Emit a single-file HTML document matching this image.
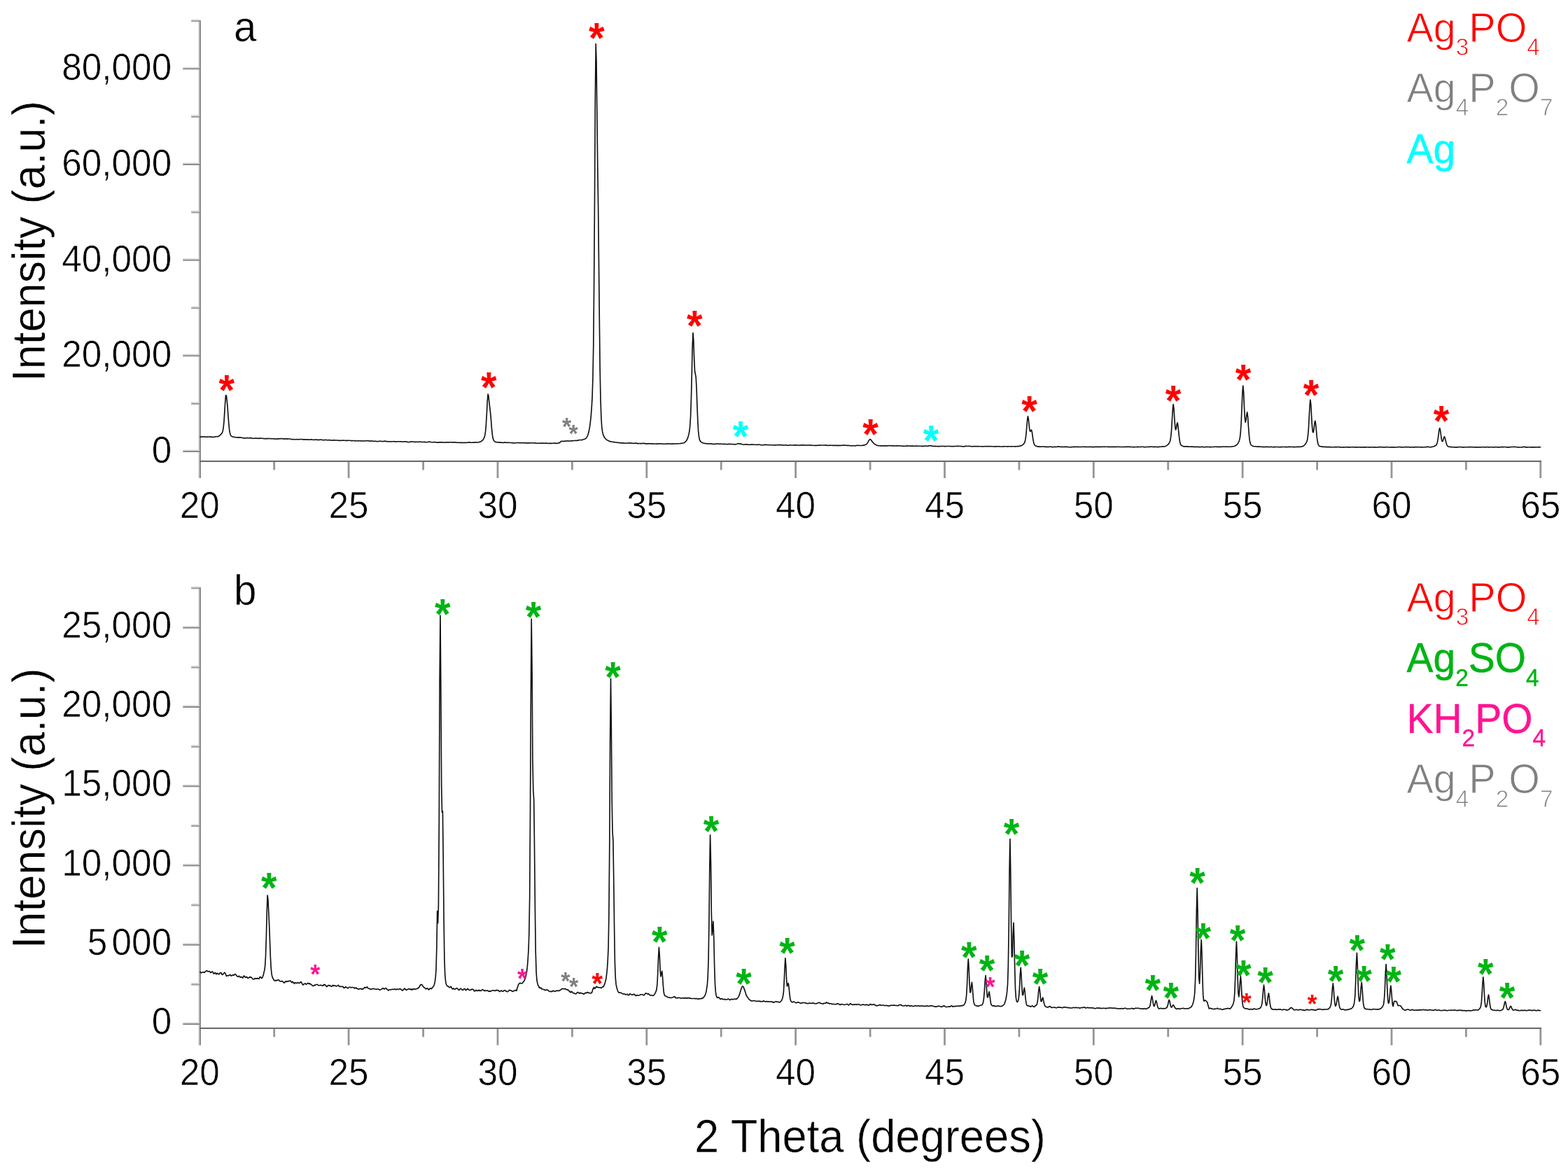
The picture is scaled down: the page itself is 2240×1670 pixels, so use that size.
<!DOCTYPE html>
<html lang="en"><head><meta charset="utf-8"><title>XRD patterns</title>
<style>
html,body{margin:0;padding:0;background:#fff}
body{width:2240px;height:1670px;overflow:hidden}
svg{display:block}
text{font-family:"Liberation Sans",sans-serif}
.tk{font-size:51.6px;stroke:#fff;stroke-width:0.6px}
.ttl{font-size:63.3px;stroke:#fff;stroke-width:0.5px}
.pl{font-size:58.3px;stroke:#fff;stroke-width:0.5px}
.lg{font-size:58.5px;stroke:#fff;stroke-width:0.9px}
.lgb{font-size:58px;stroke-width:0.4px;stroke-linejoin:round}
.sub{font-size:34px}
.st{font-weight:bold;text-anchor:middle}
.sr{text-anchor:middle}
.cv{fill:none;stroke:#111;stroke-width:1.65;stroke-linejoin:round;stroke-linecap:round}
</style></head><body>
<svg width="2240" height="1670" viewBox="0 0 2240 1670">
<rect width="2240" height="1670" fill="#fff"/>
<g>
<rect x="283.3" y="28.0" width="1.8" height="655.0" fill="#d2d2d2"/>
<rect x="285" y="29.0" width="2" height="654.0" fill="#8a8a8a"/>
<rect x="287" y="656.4" width="1914.8" height="1.6" fill="#ececec"/>
<rect x="285" y="658.0" width="1917.0" height="2" fill="#6c6c6c"/>
<rect x="261.3" y="642.4" width="23.7" height="1.6" fill="#dcdcdc"/>
<rect x="261.3" y="644.0" width="23.7" height="2" fill="#8a8a8a"/>
<rect x="261.3" y="505.7" width="23.7" height="1.6" fill="#dcdcdc"/>
<rect x="261.3" y="507.3" width="23.7" height="2" fill="#8a8a8a"/>
<rect x="261.3" y="369.1" width="23.7" height="1.6" fill="#dcdcdc"/>
<rect x="261.3" y="370.7" width="23.7" height="2" fill="#8a8a8a"/>
<rect x="261.3" y="232.4" width="23.7" height="1.6" fill="#dcdcdc"/>
<rect x="261.3" y="234.0" width="23.7" height="2" fill="#8a8a8a"/>
<rect x="261.3" y="95.7" width="23.7" height="1.6" fill="#dcdcdc"/>
<rect x="261.3" y="97.3" width="23.7" height="2" fill="#8a8a8a"/>
<rect x="273.2" y="574.3" width="11.8" height="1.6" fill="#d8d8d8"/>
<rect x="273.2" y="575.9" width="11.8" height="2" fill="#9c9c9c"/>
<rect x="273.2" y="437.6" width="11.8" height="1.6" fill="#d8d8d8"/>
<rect x="273.2" y="439.2" width="11.8" height="2" fill="#9c9c9c"/>
<rect x="273.2" y="300.9" width="11.8" height="1.6" fill="#d8d8d8"/>
<rect x="273.2" y="302.5" width="11.8" height="2" fill="#9c9c9c"/>
<rect x="273.2" y="164.3" width="11.8" height="1.6" fill="#d8d8d8"/>
<rect x="273.2" y="165.9" width="11.8" height="2" fill="#9c9c9c"/>
<rect x="273.2" y="27.6" width="11.8" height="1.6" fill="#d8d8d8"/>
<rect x="273.2" y="29.2" width="11.8" height="2" fill="#9c9c9c"/>
<rect x="496.7" y="660.0" width="2.8" height="23.0" fill="#969696"/>
<rect x="709.6" y="660.0" width="2.8" height="23.0" fill="#969696"/>
<rect x="922.4" y="660.0" width="2.8" height="23.0" fill="#969696"/>
<rect x="1135.2" y="660.0" width="2.8" height="23.0" fill="#969696"/>
<rect x="1348.1" y="660.0" width="2.8" height="23.0" fill="#969696"/>
<rect x="1560.9" y="660.0" width="2.8" height="23.0" fill="#969696"/>
<rect x="1773.7" y="660.0" width="2.8" height="23.0" fill="#969696"/>
<rect x="1986.6" y="660.0" width="2.8" height="23.0" fill="#969696"/>
<rect x="2199.4" y="660.0" width="2.8" height="23.0" fill="#969696"/>
<rect x="390.3" y="660.0" width="2.8" height="11.4" fill="#969696"/>
<rect x="603.2" y="660.0" width="2.8" height="11.4" fill="#969696"/>
<rect x="816.0" y="660.0" width="2.8" height="11.4" fill="#969696"/>
<rect x="1028.8" y="660.0" width="2.8" height="11.4" fill="#969696"/>
<rect x="1241.7" y="660.0" width="2.8" height="11.4" fill="#969696"/>
<rect x="1454.5" y="660.0" width="2.8" height="11.4" fill="#969696"/>
<rect x="1667.3" y="660.0" width="2.8" height="11.4" fill="#969696"/>
<rect x="1880.2" y="660.0" width="2.8" height="11.4" fill="#969696"/>
<rect x="2093.0" y="660.0" width="2.8" height="11.4" fill="#969696"/>
</g>
<g class="tk" text-anchor="middle">
<text transform="translate(285.3,739.7) scale(0.995,1.05)">20</text>
<text transform="translate(498.1,739.7) scale(0.995,1.05)">25</text>
<text transform="translate(711.0,739.7) scale(0.995,1.05)">30</text>
<text transform="translate(923.8,739.7) scale(0.995,1.05)">35</text>
<text transform="translate(1136.6,739.7) scale(0.995,1.05)">40</text>
<text transform="translate(1349.5,739.7) scale(0.995,1.05)">45</text>
<text transform="translate(1562.3,739.7) scale(0.995,1.05)">50</text>
<text transform="translate(1775.1,739.7) scale(0.995,1.05)">55</text>
<text transform="translate(1988.0,739.7) scale(0.995,1.05)">60</text>
<text transform="translate(2200.8,739.7) scale(0.995,1.05)">65</text>
</g>
<g class="tk" text-anchor="end">
<text transform="translate(245.2,660.8) scale(0.995,1.05)">0</text>
<text transform="translate(245.2,524.1) scale(0.995,1.05)">20,000</text>
<text transform="translate(245.2,387.5) scale(0.995,1.05)">40,000</text>
<text transform="translate(245.2,250.8) scale(0.995,1.05)">60,000</text>
<text transform="translate(245.2,114.1) scale(0.995,1.05)">80,000</text>
</g>
<g>
<rect x="283.3" y="838.0" width="1.8" height="655.2" fill="#d2d2d2"/>
<rect x="285" y="839.0" width="2" height="654.2" fill="#8a8a8a"/>
<rect x="287" y="1466.4" width="1914.8" height="1.6" fill="#ececec"/>
<rect x="285" y="1468.0" width="1917.0" height="2" fill="#6c6c6c"/>
<rect x="261.3" y="1460.4" width="23.7" height="1.6" fill="#dcdcdc"/>
<rect x="261.3" y="1462.0" width="23.7" height="2" fill="#8a8a8a"/>
<rect x="261.3" y="1347.2" width="23.7" height="1.6" fill="#dcdcdc"/>
<rect x="261.3" y="1348.8" width="23.7" height="2" fill="#8a8a8a"/>
<rect x="261.3" y="1233.9" width="23.7" height="1.6" fill="#dcdcdc"/>
<rect x="261.3" y="1235.5" width="23.7" height="2" fill="#8a8a8a"/>
<rect x="261.3" y="1120.7" width="23.7" height="1.6" fill="#dcdcdc"/>
<rect x="261.3" y="1122.3" width="23.7" height="2" fill="#8a8a8a"/>
<rect x="261.3" y="1007.4" width="23.7" height="1.6" fill="#dcdcdc"/>
<rect x="261.3" y="1009.0" width="23.7" height="2" fill="#8a8a8a"/>
<rect x="261.3" y="894.2" width="23.7" height="1.6" fill="#dcdcdc"/>
<rect x="261.3" y="895.8" width="23.7" height="2" fill="#8a8a8a"/>
<rect x="273.2" y="1404.0" width="11.8" height="1.6" fill="#d8d8d8"/>
<rect x="273.2" y="1405.6" width="11.8" height="2" fill="#9c9c9c"/>
<rect x="273.2" y="1290.7" width="11.8" height="1.6" fill="#d8d8d8"/>
<rect x="273.2" y="1292.3" width="11.8" height="2" fill="#9c9c9c"/>
<rect x="273.2" y="1177.5" width="11.8" height="1.6" fill="#d8d8d8"/>
<rect x="273.2" y="1179.1" width="11.8" height="2" fill="#9c9c9c"/>
<rect x="273.2" y="1064.3" width="11.8" height="1.6" fill="#d8d8d8"/>
<rect x="273.2" y="1065.9" width="11.8" height="2" fill="#9c9c9c"/>
<rect x="273.2" y="951.0" width="11.8" height="1.6" fill="#d8d8d8"/>
<rect x="273.2" y="952.6" width="11.8" height="2" fill="#9c9c9c"/>
<rect x="273.2" y="837.8" width="11.8" height="1.6" fill="#d8d8d8"/>
<rect x="273.2" y="839.4" width="11.8" height="2" fill="#9c9c9c"/>
<rect x="496.7" y="1470.0" width="2.8" height="23.2" fill="#969696"/>
<rect x="709.6" y="1470.0" width="2.8" height="23.2" fill="#969696"/>
<rect x="922.4" y="1470.0" width="2.8" height="23.2" fill="#969696"/>
<rect x="1135.2" y="1470.0" width="2.8" height="23.2" fill="#969696"/>
<rect x="1348.1" y="1470.0" width="2.8" height="23.2" fill="#969696"/>
<rect x="1560.9" y="1470.0" width="2.8" height="23.2" fill="#969696"/>
<rect x="1773.7" y="1470.0" width="2.8" height="23.2" fill="#969696"/>
<rect x="1986.6" y="1470.0" width="2.8" height="23.2" fill="#969696"/>
<rect x="2199.4" y="1470.0" width="2.8" height="23.2" fill="#969696"/>
<rect x="390.3" y="1470.0" width="2.8" height="11.4" fill="#969696"/>
<rect x="603.2" y="1470.0" width="2.8" height="11.4" fill="#969696"/>
<rect x="816.0" y="1470.0" width="2.8" height="11.4" fill="#969696"/>
<rect x="1028.8" y="1470.0" width="2.8" height="11.4" fill="#969696"/>
<rect x="1241.7" y="1470.0" width="2.8" height="11.4" fill="#969696"/>
<rect x="1454.5" y="1470.0" width="2.8" height="11.4" fill="#969696"/>
<rect x="1667.3" y="1470.0" width="2.8" height="11.4" fill="#969696"/>
<rect x="1880.2" y="1470.0" width="2.8" height="11.4" fill="#969696"/>
<rect x="2093.0" y="1470.0" width="2.8" height="11.4" fill="#969696"/>
</g>
<g class="tk" text-anchor="middle">
<text transform="translate(285.3,1549.9) scale(0.995,1.05)">20</text>
<text transform="translate(498.1,1549.9) scale(0.995,1.05)">25</text>
<text transform="translate(711.0,1549.9) scale(0.995,1.05)">30</text>
<text transform="translate(923.8,1549.9) scale(0.995,1.05)">35</text>
<text transform="translate(1136.6,1549.9) scale(0.995,1.05)">40</text>
<text transform="translate(1349.5,1549.9) scale(0.995,1.05)">45</text>
<text transform="translate(1562.3,1549.9) scale(0.995,1.05)">50</text>
<text transform="translate(1775.1,1549.9) scale(0.995,1.05)">55</text>
<text transform="translate(1988.0,1549.9) scale(0.995,1.05)">60</text>
<text transform="translate(2200.8,1549.9) scale(0.995,1.05)">65</text>
</g>
<g class="tk" text-anchor="end">
<text transform="translate(245.2,1477.0) scale(0.995,1.05)">0</text>
<text transform="translate(245.2,1363.8) scale(0.995,1.05)">5 <tspan dx="-4">000</tspan></text>
<text transform="translate(245.2,1250.5) scale(0.995,1.05)">10,000</text>
<text transform="translate(245.2,1137.3) scale(0.995,1.05)">15,000</text>
<text transform="translate(245.2,1024.0) scale(0.995,1.05)">20,000</text>
<text transform="translate(245.2,910.8) scale(0.995,1.05)">25,000</text>
</g>
<text transform="translate(63.6,344.5) rotate(-90) scale(1,1.04)" class="ttl" text-anchor="middle">Intensity (a.u.)</text>
<text transform="translate(63.6,1154.8) rotate(-90) scale(1,1.04)" class="ttl" text-anchor="middle">Intensity (a.u.)</text>
<text transform="translate(1243,1645.6) scale(1,1.04)" class="ttl" text-anchor="middle">2 Theta (degrees)</text>
<text transform="translate(334,59) scale(1,1.04)" class="pl">a</text>
<text transform="translate(334,863.6) scale(1,1.04)" class="pl">b</text>
<text transform="translate(2009.5,59.8) scale(0.982,1.025)" class="lg" style="fill:#ff0000"><tspan>Ag</tspan><tspan class="sub" dy="19">3</tspan><tspan dy="-19">PO</tspan><tspan class="sub" dy="19">4</tspan></text>
<text transform="translate(2009.5,146.0) scale(0.982,1.025)" class="lg" style="fill:#808080"><tspan>Ag</tspan><tspan class="sub" dy="19">4</tspan><tspan dy="-19">P</tspan><tspan class="sub" dy="19">2</tspan><tspan dy="-19">O</tspan><tspan class="sub" dy="19">7</tspan></text>
<text transform="translate(2009.5,232.8) scale(0.982,1.025)" class="lg lgb" style="fill:#00ffff;stroke:#00ffff"><tspan>Ag</tspan></text>
<text transform="translate(2009.5,873.5) scale(0.982,1.025)" class="lg" style="fill:#ff0000"><tspan>Ag</tspan><tspan class="sub" dy="19">3</tspan><tspan dy="-19">PO</tspan><tspan class="sub" dy="19">4</tspan></text>
<text transform="translate(2009.5,960.1) scale(0.982,1.025)" class="lg lgb" style="fill:#00b414;stroke:#00b414"><tspan>Ag</tspan><tspan class="sub" dy="19">2</tspan><tspan dy="-19">SO</tspan><tspan class="sub" dy="19">4</tspan></text>
<text transform="translate(2009.5,1046.6) scale(0.982,1.025)" class="lg lgb" style="fill:#ff1493;stroke:#ff1493"><tspan>KH</tspan><tspan class="sub" dy="19">2</tspan><tspan dy="-19">PO</tspan><tspan class="sub" dy="19">4</tspan></text>
<text transform="translate(2009.5,1133.2) scale(0.982,1.025)" class="lg" style="fill:#808080"><tspan>Ag</tspan><tspan class="sub" dy="19">4</tspan><tspan dy="-19">P</tspan><tspan class="sub" dy="19">2</tspan><tspan dy="-19">O</tspan><tspan class="sub" dy="19">7</tspan></text>
<path class="cv" d="M285.9,624.1 L286.8,624.1 L287.6,624.2 L288.5,623.9 L289.3,624.0 L290.2,624.0 L291.0,623.8 L291.9,624.0 L292.7,624.1 L293.6,624.0 L294.4,624.2 L295.3,624.2 L296.1,624.1 L297.0,624.1 L297.8,624.0 L298.7,624.0 L299.5,624.1 L300.4,624.1 L301.2,624.1 L302.1,624.3 L302.9,624.3 L303.8,624.2 L304.6,624.6 L305.5,624.4 L306.3,624.2 L307.2,624.1 L308.0,623.6 L308.9,623.7 L309.7,623.7 L310.6,623.5 L311.4,623.7 L312.3,623.1 L313.1,622.8 L314.0,622.1 L314.8,621.2 L315.7,620.4 L316.5,619.4 L317.4,618.3 L318.3,615.7 L319.1,611.2 L320.0,602.5 L320.8,589.6 L321.7,575.0 L322.5,564.9 L323.4,565.0 L324.2,571.9 L325.1,581.7 L325.9,593.4 L326.8,604.8 L327.6,613.4 L328.5,618.5 L329.3,621.4 L330.2,622.9 L331.0,623.4 L331.9,623.8 L332.7,623.9 L333.6,624.2 L334.4,624.3 L335.3,624.6 L336.1,624.8 L337.0,624.7 L337.8,624.8 L338.7,624.9 L339.5,624.9 L340.4,625.1 L341.2,625.1 L342.1,624.8 L342.9,624.9 L343.8,624.9 L344.6,625.2 L345.5,625.3 L346.3,625.4 L347.2,625.7 L348.0,625.8 L348.9,625.8 L349.8,625.8 L350.6,625.8 L351.5,625.7 L352.3,625.5 L353.2,625.6 L354.0,625.6 L354.9,625.7 L355.7,625.8 L356.6,625.8 L357.4,625.6 L358.3,625.6 L359.1,625.9 L360.0,626.1 L360.8,626.2 L361.7,626.3 L362.5,626.3 L363.4,626.2 L364.2,626.1 L365.1,626.0 L365.9,625.9 L366.8,626.2 L367.6,626.3 L368.5,626.4 L369.3,626.4 L370.2,626.1 L371.0,626.0 L371.9,626.1 L372.7,626.1 L373.6,626.2 L374.4,626.2 L375.3,626.3 L376.1,626.5 L377.0,626.6 L377.8,626.7 L378.7,626.5 L379.5,626.6 L380.4,626.5 L381.3,626.6 L382.1,626.6 L383.0,626.6 L383.8,626.5 L384.7,626.4 L385.5,626.5 L386.4,626.7 L387.2,626.7 L388.1,626.6 L388.9,626.8 L389.8,626.7 L390.6,626.7 L391.5,626.9 L392.3,626.9 L393.2,627.0 L394.0,627.1 L394.9,627.1 L395.7,627.0 L396.6,626.9 L397.4,626.8 L398.3,626.8 L399.1,626.8 L400.0,626.6 L400.8,626.7 L401.7,626.6 L402.5,626.5 L403.4,626.8 L404.2,626.7 L405.1,626.9 L405.9,627.1 L406.8,627.0 L407.6,626.9 L408.5,626.8 L409.3,626.9 L410.2,626.9 L411.0,627.1 L411.9,627.0 L412.7,627.0 L413.6,627.0 L414.5,627.0 L415.3,627.2 L416.2,627.4 L417.0,627.7 L417.9,627.6 L418.7,627.7 L419.6,627.7 L420.4,627.6 L421.3,627.7 L422.1,627.7 L423.0,627.8 L423.8,627.6 L424.7,627.7 L425.5,627.8 L426.4,627.6 L427.2,627.8 L428.1,627.7 L428.9,627.5 L429.8,627.5 L430.6,627.5 L431.5,627.6 L432.3,627.8 L433.2,627.8 L434.0,627.8 L434.9,627.9 L435.7,627.9 L436.6,627.9 L437.4,628.0 L438.3,627.9 L439.1,627.9 L440.0,628.1 L440.8,628.1 L441.7,628.2 L442.5,628.0 L443.4,627.9 L444.2,627.9 L445.1,627.8 L446.0,628.2 L446.8,628.3 L447.7,628.2 L448.5,628.4 L449.4,628.2 L450.2,628.0 L451.1,628.3 L451.9,628.0 L452.8,628.2 L453.6,628.5 L454.5,628.3 L455.3,628.4 L456.2,628.4 L457.0,628.2 L457.9,628.1 L458.7,628.2 L459.6,628.2 L460.4,628.4 L461.3,628.7 L462.1,628.7 L463.0,628.6 L463.8,628.5 L464.7,628.4 L465.5,628.5 L466.4,628.5 L467.2,628.7 L468.1,628.7 L468.9,628.6 L469.8,628.7 L470.6,628.6 L471.5,628.8 L472.3,628.9 L473.2,629.0 L474.0,629.1 L474.9,629.0 L475.7,628.9 L476.6,628.8 L477.5,628.9 L478.3,628.8 L479.2,629.0 L480.0,629.0 L480.9,629.0 L481.7,629.0 L482.6,629.1 L483.4,629.1 L484.3,629.2 L485.1,629.4 L486.0,629.4 L486.8,629.4 L487.7,629.3 L488.5,629.2 L489.4,629.1 L490.2,629.0 L491.1,629.2 L491.9,629.2 L492.8,629.3 L493.6,629.4 L494.5,629.4 L495.3,629.4 L496.2,629.3 L497.0,629.3 L497.9,629.2 L498.7,629.2 L499.6,629.2 L500.4,629.4 L501.3,629.5 L502.1,629.6 L503.0,629.6 L503.8,629.5 L504.7,629.5 L505.5,629.5 L506.4,629.7 L507.2,629.9 L508.1,629.7 L509.0,629.7 L509.8,629.7 L510.7,629.7 L511.5,629.8 L512.4,629.8 L513.2,629.7 L514.1,629.7 L514.9,629.8 L515.8,629.9 L516.6,630.0 L517.5,629.9 L518.3,630.0 L519.2,630.0 L520.0,629.9 L520.9,630.0 L521.7,629.7 L522.6,629.7 L523.4,629.7 L524.3,629.6 L525.1,629.7 L526.0,629.6 L526.8,629.7 L527.7,629.9 L528.5,630.2 L529.4,630.1 L530.2,629.9 L531.1,630.0 L531.9,630.1 L532.8,630.2 L533.6,630.4 L534.5,630.3 L535.3,630.2 L536.2,630.3 L537.0,630.4 L537.9,630.5 L538.7,630.7 L539.6,630.6 L540.5,630.5 L541.3,630.5 L542.2,630.2 L543.0,630.3 L543.9,630.4 L544.7,630.4 L545.6,630.5 L546.4,630.7 L547.3,630.5 L548.1,630.4 L549.0,630.3 L549.8,630.1 L550.7,630.4 L551.5,630.6 L552.4,630.6 L553.2,630.6 L554.1,630.8 L554.9,630.7 L555.8,630.8 L556.6,630.9 L557.5,630.7 L558.3,630.8 L559.2,630.8 L560.0,630.7 L560.9,630.7 L561.7,630.7 L562.6,630.6 L563.4,630.8 L564.3,630.9 L565.1,630.9 L566.0,631.0 L566.8,630.9 L567.7,630.8 L568.5,630.7 L569.4,630.8 L570.2,630.7 L571.1,630.8 L572.0,630.8 L572.8,630.7 L573.7,630.9 L574.5,631.0 L575.4,631.1 L576.2,631.0 L577.1,630.9 L577.9,630.7 L578.8,630.7 L579.6,630.9 L580.5,631.1 L581.3,631.3 L582.2,631.3 L583.0,631.5 L583.9,631.7 L584.7,631.5 L585.6,631.4 L586.4,631.1 L587.3,631.0 L588.1,630.8 L589.0,631.0 L589.8,631.0 L590.7,631.0 L591.5,631.3 L592.4,631.3 L593.2,631.3 L594.1,631.4 L594.9,631.3 L595.8,631.2 L596.6,631.3 L597.5,631.3 L598.3,631.3 L599.2,631.2 L600.0,631.3 L600.9,631.1 L601.7,631.2 L602.6,631.5 L603.4,631.5 L604.3,631.5 L605.2,631.4 L606.0,631.4 L606.9,631.4 L607.7,631.6 L608.6,631.8 L609.4,631.7 L610.3,631.7 L611.1,631.5 L612.0,631.2 L612.8,631.1 L613.7,631.1 L614.5,631.2 L615.4,631.5 L616.2,631.7 L617.1,631.7 L617.9,631.8 L618.8,631.7 L619.6,631.7 L620.5,631.6 L621.3,631.6 L622.2,631.7 L623.0,631.8 L623.9,632.0 L624.7,632.1 L625.6,632.1 L626.4,632.1 L627.3,631.9 L628.1,631.8 L629.0,631.9 L629.8,631.7 L630.7,631.9 L631.5,631.8 L632.4,631.9 L633.2,632.0 L634.1,632.0 L634.9,632.2 L635.8,632.1 L636.7,632.0 L637.5,631.9 L638.4,631.9 L639.2,631.9 L640.1,632.0 L640.9,632.1 L641.8,631.8 L642.6,631.7 L643.5,631.7 L644.3,631.7 L645.2,631.9 L646.0,631.9 L646.9,632.0 L647.7,631.8 L648.6,631.9 L649.4,631.9 L650.3,631.9 L651.1,632.0 L652.0,632.1 L652.8,632.2 L653.7,632.3 L654.5,632.4 L655.4,632.2 L656.2,632.3 L657.1,632.3 L657.9,632.3 L658.8,632.3 L659.6,632.3 L660.5,632.3 L661.3,632.5 L662.2,632.4 L663.0,632.5 L663.9,632.4 L664.7,632.3 L665.6,632.4 L666.4,632.5 L667.3,632.2 L668.2,632.1 L669.0,632.0 L669.9,631.9 L670.7,632.1 L671.6,632.0 L672.4,632.2 L673.3,632.3 L674.1,632.2 L675.0,632.2 L675.8,632.1 L676.7,632.0 L677.5,632.1 L678.4,632.0 L679.2,631.9 L680.1,631.9 L680.9,632.0 L681.8,632.1 L682.6,632.0 L683.5,631.8 L684.3,631.6 L685.2,631.4 L686.0,631.2 L686.9,630.8 L687.7,630.3 L688.6,629.6 L689.4,628.8 L690.3,627.9 L691.1,626.4 L692.0,624.7 L692.8,621.4 L693.7,615.5 L694.5,605.3 L695.4,590.0 L696.2,573.3 L697.1,563.1 L697.9,565.6 L698.8,574.4 L699.7,581.8 L700.5,588.6 L701.4,598.3 L702.2,609.4 L703.1,618.6 L703.9,624.8 L704.8,628.1 L705.6,629.7 L706.5,630.5 L707.3,631.0 L708.2,631.4 L709.0,631.6 L709.9,631.7 L710.7,631.9 L711.6,631.8 L712.4,632.0 L713.3,632.1 L714.1,631.9 L715.0,632.2 L715.8,632.1 L716.7,632.2 L717.5,632.4 L718.4,632.4 L719.2,632.4 L720.1,632.3 L720.9,632.1 L721.8,631.9 L722.6,632.2 L723.5,632.3 L724.3,632.4 L725.2,632.4 L726.0,632.2 L726.9,632.2 L727.7,632.2 L728.6,632.5 L729.4,632.5 L730.3,632.5 L731.2,632.6 L732.0,632.6 L732.9,632.8 L733.7,632.8 L734.6,632.8 L735.4,632.7 L736.3,632.7 L737.1,632.7 L738.0,632.6 L738.8,632.5 L739.7,632.5 L740.5,632.4 L741.4,632.6 L742.2,632.7 L743.1,632.6 L743.9,632.7 L744.8,632.6 L745.6,632.6 L746.5,632.7 L747.3,632.6 L748.2,632.5 L749.0,632.6 L749.9,632.5 L750.7,632.7 L751.6,632.9 L752.4,632.8 L753.3,632.9 L754.1,632.8 L755.0,632.8 L755.8,632.8 L756.7,632.6 L757.5,632.8 L758.4,632.8 L759.2,632.7 L760.1,632.7 L760.9,632.7 L761.8,632.8 L762.7,632.9 L763.5,633.0 L764.4,632.8 L765.2,633.0 L766.1,633.1 L766.9,633.2 L767.8,633.3 L768.6,633.2 L769.5,633.2 L770.3,633.1 L771.2,633.2 L772.0,633.1 L772.9,633.2 L773.7,633.1 L774.6,633.0 L775.4,633.1 L776.3,633.1 L777.1,633.2 L778.0,633.2 L778.8,633.1 L779.7,633.0 L780.5,633.1 L781.4,633.3 L782.2,633.4 L783.1,633.5 L783.9,633.3 L784.8,633.3 L785.6,633.3 L786.5,633.3 L787.3,633.4 L788.2,633.4 L789.0,633.2 L789.9,633.2 L790.7,633.2 L791.6,633.0 L792.4,633.1 L793.3,633.1 L794.1,633.3 L795.0,633.3 L795.9,633.3 L796.7,633.2 L797.6,632.9 L798.4,632.7 L799.3,632.8 L800.1,631.9 L801.0,630.9 L801.8,630.4 L802.7,630.3 L803.5,630.5 L804.4,630.4 L805.2,630.4 L806.1,630.4 L806.9,630.3 L807.8,630.1 L808.6,630.1 L809.5,630.0 L810.3,629.9 L811.2,630.0 L812.0,629.9 L812.9,630.0 L813.7,630.0 L814.6,630.0 L815.4,629.8 L816.3,629.8 L817.1,629.8 L818.0,629.6 L818.8,629.7 L819.7,629.5 L820.5,629.5 L821.4,629.5 L822.2,629.4 L823.1,629.5 L823.9,629.3 L824.8,629.3 L825.6,629.1 L826.5,628.9 L827.4,628.7 L828.2,628.5 L829.1,628.5 L829.9,628.5 L830.8,628.6 L831.6,628.4 L832.5,628.1 L833.3,627.8 L834.2,627.5 L835.0,627.3 L835.9,627.0 L836.7,626.5 L837.6,625.6 L838.4,624.4 L839.3,622.9 L840.1,620.6 L841.0,617.6 L841.8,613.7 L842.7,608.4 L843.5,601.8 L844.4,593.3 L845.2,582.4 L846.1,566.6 L846.9,540.7 L847.8,492.6 L848.6,407.5 L849.5,281.9 L850.3,143.9 L851.2,62.7 L852.0,87.9 L852.9,165.9 L853.7,233.8 L854.6,292.6 L855.4,369.6 L856.3,454.9 L857.1,525.2 L858.0,571.5 L858.9,597.1 L859.7,609.8 L860.6,616.4 L861.4,620.0 L862.3,622.4 L863.1,624.3 L864.0,625.6 L864.8,626.6 L865.7,627.5 L866.5,628.2 L867.4,628.8 L868.2,629.1 L869.1,629.5 L869.9,629.9 L870.8,630.3 L871.6,630.8 L872.5,630.9 L873.3,631.0 L874.2,631.2 L875.0,631.3 L875.9,631.5 L876.7,631.6 L877.6,631.6 L878.4,631.7 L879.3,631.9 L880.1,632.0 L881.0,632.0 L881.8,632.3 L882.7,632.4 L883.5,632.4 L884.4,632.5 L885.2,632.6 L886.1,632.5 L886.9,632.8 L887.8,632.8 L888.6,632.9 L889.5,632.9 L890.4,632.8 L891.2,632.9 L892.1,633.0 L892.9,633.2 L893.8,633.3 L894.6,633.2 L895.5,633.0 L896.3,632.9 L897.2,633.0 L898.0,632.9 L898.9,633.0 L899.7,632.9 L900.6,632.8 L901.4,633.1 L902.3,633.0 L903.1,633.2 L904.0,633.3 L904.8,633.3 L905.7,633.3 L906.5,633.2 L907.4,633.0 L908.2,633.1 L909.1,633.1 L909.9,633.4 L910.8,633.6 L911.6,633.5 L912.5,633.6 L913.3,633.5 L914.2,633.5 L915.0,633.6 L915.9,633.5 L916.7,633.6 L917.6,633.5 L918.4,633.3 L919.3,633.4 L920.1,633.4 L921.0,633.6 L921.9,633.8 L922.7,633.8 L923.6,633.9 L924.4,633.8 L925.3,633.8 L926.1,633.9 L927.0,633.6 L927.8,633.7 L928.7,633.8 L929.5,633.8 L930.4,633.9 L931.2,633.9 L932.1,633.9 L932.9,634.0 L933.8,634.1 L934.6,634.0 L935.5,634.0 L936.3,634.0 L937.2,634.1 L938.0,634.1 L938.9,634.1 L939.7,634.0 L940.6,633.8 L941.4,633.8 L942.3,633.9 L943.1,634.0 L944.0,633.9 L944.8,634.0 L945.7,634.0 L946.5,634.1 L947.4,634.2 L948.2,634.2 L949.1,634.2 L949.9,634.2 L950.8,634.2 L951.6,634.1 L952.5,634.1 L953.4,634.0 L954.2,633.9 L955.1,633.8 L955.9,633.8 L956.8,634.0 L957.6,634.0 L958.5,634.1 L959.3,634.2 L960.2,634.1 L961.0,634.1 L961.9,633.9 L962.7,634.0 L963.6,634.0 L964.4,633.9 L965.3,634.0 L966.1,634.0 L967.0,633.9 L967.8,633.8 L968.7,633.7 L969.5,633.7 L970.4,633.7 L971.2,633.7 L972.1,633.5 L972.9,633.4 L973.8,633.3 L974.6,633.2 L975.5,633.1 L976.3,632.8 L977.2,632.4 L978.0,632.0 L978.9,631.3 L979.7,630.6 L980.6,629.5 L981.4,628.0 L982.3,626.2 L983.1,623.7 L984.0,620.4 L984.9,616.0 L985.7,608.5 L986.6,594.8 L987.4,570.6 L988.3,534.9 L989.1,496.5 L990.0,475.5 L990.8,486.4 L991.7,511.9 L992.5,529.5 L993.4,534.5 L994.2,538.8 L995.1,555.3 L995.9,579.4 L996.8,601.0 L997.6,615.5 L998.5,623.7 L999.3,627.8 L1000.2,629.8 L1001.0,631.0 L1001.9,631.7 L1002.7,632.0 L1003.6,632.4 L1004.4,632.8 L1005.3,633.1 L1006.1,633.2 L1007.0,633.5 L1007.8,633.6 L1008.7,633.5 L1009.5,633.8 L1010.4,633.9 L1011.2,633.8 L1012.1,634.0 L1012.9,634.0 L1013.8,633.8 L1014.6,633.9 L1015.5,633.9 L1016.3,634.0 L1017.2,634.3 L1018.1,634.4 L1018.9,634.4 L1019.8,634.4 L1020.6,634.3 L1021.5,634.3 L1022.3,634.2 L1023.2,634.1 L1024.0,634.0 L1024.9,634.0 L1025.7,634.1 L1026.6,634.1 L1027.4,634.3 L1028.3,634.2 L1029.1,634.1 L1030.0,634.2 L1030.8,634.2 L1031.7,634.3 L1032.5,634.5 L1033.4,634.4 L1034.2,634.4 L1035.1,634.4 L1035.9,634.4 L1036.8,634.5 L1037.6,634.6 L1038.5,634.7 L1039.3,634.6 L1040.2,634.5 L1041.0,634.3 L1041.9,634.3 L1042.7,634.4 L1043.6,634.4 L1044.4,634.5 L1045.3,634.5 L1046.1,634.6 L1047.0,634.6 L1047.8,634.8 L1048.7,634.7 L1049.6,634.6 L1050.4,634.9 L1051.3,634.7 L1052.1,634.5 L1053.0,634.2 L1053.8,633.7 L1054.7,633.6 L1055.5,633.7 L1056.4,633.9 L1057.2,634.1 L1058.1,634.1 L1058.9,634.2 L1059.8,634.5 L1060.6,634.7 L1061.5,635.0 L1062.3,635.2 L1063.2,635.0 L1064.0,635.0 L1064.9,634.9 L1065.7,634.8 L1066.6,634.9 L1067.4,634.9 L1068.3,635.1 L1069.1,635.2 L1070.0,635.3 L1070.8,635.4 L1071.7,635.3 L1072.5,635.1 L1073.4,634.9 L1074.2,635.0 L1075.1,635.1 L1075.9,635.1 L1076.8,635.2 L1077.6,635.3 L1078.5,635.2 L1079.3,635.2 L1080.2,635.3 L1081.1,635.4 L1081.9,635.3 L1082.8,635.3 L1083.6,635.2 L1084.5,635.1 L1085.3,635.3 L1086.2,635.5 L1087.0,635.6 L1087.9,635.7 L1088.7,635.7 L1089.6,635.7 L1090.4,635.7 L1091.3,635.6 L1092.1,635.4 L1093.0,635.3 L1093.8,635.4 L1094.7,635.4 L1095.5,635.5 L1096.4,635.6 L1097.2,635.5 L1098.1,635.5 L1098.9,635.7 L1099.8,635.7 L1100.6,635.7 L1101.5,635.7 L1102.3,635.7 L1103.2,635.7 L1104.0,635.7 L1104.9,635.8 L1105.7,635.9 L1106.6,635.9 L1107.4,635.9 L1108.3,635.7 L1109.1,635.7 L1110.0,635.7 L1110.8,635.6 L1111.7,635.7 L1112.6,635.6 L1113.4,635.5 L1114.3,635.6 L1115.1,635.6 L1116.0,635.6 L1116.8,635.7 L1117.7,635.8 L1118.5,635.8 L1119.4,636.0 L1120.2,636.0 L1121.1,635.9 L1121.9,635.8 L1122.8,635.7 L1123.6,635.9 L1124.5,636.1 L1125.3,636.2 L1126.2,636.3 L1127.0,636.0 L1127.9,635.9 L1128.7,635.7 L1129.6,635.7 L1130.4,636.0 L1131.3,636.0 L1132.1,636.0 L1133.0,636.0 L1133.8,635.8 L1134.7,635.8 L1135.5,635.8 L1136.4,635.8 L1137.2,635.8 L1138.1,635.9 L1138.9,636.0 L1139.8,636.0 L1140.6,636.2 L1141.5,636.1 L1142.3,636.0 L1143.2,636.0 L1144.1,635.8 L1144.9,635.8 L1145.8,635.9 L1146.6,635.8 L1147.5,635.8 L1148.3,635.9 L1149.2,635.9 L1150.0,636.0 L1150.9,636.0 L1151.7,636.1 L1152.6,636.1 L1153.4,636.0 L1154.3,636.0 L1155.1,636.0 L1156.0,635.9 L1156.8,636.0 L1157.7,636.1 L1158.5,636.1 L1159.4,636.1 L1160.2,636.2 L1161.1,636.2 L1161.9,636.3 L1162.8,636.5 L1163.6,636.5 L1164.5,636.4 L1165.3,636.4 L1166.2,636.4 L1167.0,636.4 L1167.9,636.3 L1168.7,636.2 L1169.6,636.1 L1170.4,636.1 L1171.3,636.1 L1172.1,636.0 L1173.0,636.0 L1173.8,636.0 L1174.7,636.0 L1175.6,636.0 L1176.4,636.0 L1177.3,636.0 L1178.1,636.0 L1179.0,635.9 L1179.8,636.1 L1180.7,636.1 L1181.5,636.2 L1182.4,636.4 L1183.2,636.3 L1184.1,636.3 L1184.9,636.2 L1185.8,636.1 L1186.6,636.2 L1187.5,636.2 L1188.3,636.3 L1189.2,636.4 L1190.0,636.4 L1190.9,636.4 L1191.7,636.4 L1192.6,636.4 L1193.4,636.3 L1194.3,636.4 L1195.1,636.4 L1196.0,636.4 L1196.8,636.6 L1197.7,636.4 L1198.5,636.4 L1199.4,636.4 L1200.2,636.5 L1201.1,636.4 L1201.9,636.4 L1202.8,636.2 L1203.6,636.1 L1204.5,636.2 L1205.3,636.1 L1206.2,636.1 L1207.0,636.1 L1207.9,636.2 L1208.8,636.3 L1209.6,636.4 L1210.5,636.3 L1211.3,636.4 L1212.2,636.4 L1213.0,636.5 L1213.9,636.7 L1214.7,636.7 L1215.6,636.7 L1216.4,636.8 L1217.3,636.9 L1218.1,636.8 L1219.0,636.7 L1219.8,636.7 L1220.7,636.7 L1221.5,636.9 L1222.4,636.7 L1223.2,636.6 L1224.1,636.2 L1224.9,636.2 L1225.8,636.3 L1226.6,636.3 L1227.5,636.5 L1228.3,636.5 L1229.2,636.5 L1230.0,636.5 L1230.9,636.5 L1231.7,636.3 L1232.6,636.3 L1233.4,636.1 L1234.3,635.9 L1235.1,635.7 L1236.0,635.5 L1236.8,635.1 L1237.7,634.7 L1238.5,633.9 L1239.4,632.6 L1240.3,631.1 L1241.1,629.5 L1242.0,628.1 L1242.8,627.6 L1243.7,627.8 L1244.5,628.8 L1245.4,630.1 L1246.2,631.2 L1247.1,632.1 L1247.9,633.1 L1248.8,633.8 L1249.6,634.5 L1250.5,635.0 L1251.3,635.4 L1252.2,635.9 L1253.0,636.3 L1253.9,636.5 L1254.7,636.6 L1255.6,636.7 L1256.4,636.7 L1257.3,636.8 L1258.1,636.8 L1259.0,636.8 L1259.8,636.9 L1260.7,636.9 L1261.5,637.0 L1262.4,636.9 L1263.2,636.8 L1264.1,636.8 L1264.9,636.9 L1265.8,636.9 L1266.6,636.9 L1267.5,637.0 L1268.3,636.9 L1269.2,636.8 L1270.0,636.7 L1270.9,636.5 L1271.8,636.6 L1272.6,636.7 L1273.5,636.8 L1274.3,636.9 L1275.2,636.9 L1276.0,636.9 L1276.9,636.9 L1277.7,637.0 L1278.6,637.0 L1279.4,637.0 L1280.3,636.9 L1281.1,637.0 L1282.0,636.8 L1282.8,636.8 L1283.7,636.8 L1284.5,636.7 L1285.4,636.9 L1286.2,637.0 L1287.1,637.0 L1287.9,637.1 L1288.8,637.2 L1289.6,637.1 L1290.5,637.3 L1291.3,637.3 L1292.2,637.3 L1293.0,637.2 L1293.9,637.2 L1294.7,637.1 L1295.6,636.9 L1296.4,637.1 L1297.3,637.0 L1298.1,637.0 L1299.0,637.1 L1299.8,637.0 L1300.7,637.2 L1301.5,637.1 L1302.4,637.1 L1303.3,637.1 L1304.1,637.0 L1305.0,637.3 L1305.8,637.3 L1306.7,637.2 L1307.5,637.2 L1308.4,637.1 L1309.2,637.1 L1310.1,637.1 L1310.9,637.2 L1311.8,637.2 L1312.6,637.2 L1313.5,637.2 L1314.3,637.3 L1315.2,637.2 L1316.0,637.3 L1316.9,637.3 L1317.7,637.3 L1318.6,637.4 L1319.4,637.4 L1320.3,637.4 L1321.1,637.2 L1322.0,637.1 L1322.8,637.1 L1323.7,637.2 L1324.5,637.3 L1325.4,637.3 L1326.2,637.1 L1327.1,636.9 L1327.9,636.7 L1328.8,636.6 L1329.6,636.7 L1330.5,636.9 L1331.3,637.1 L1332.2,637.3 L1333.0,637.3 L1333.9,637.5 L1334.8,637.4 L1335.6,637.4 L1336.5,637.6 L1337.3,637.5 L1338.2,637.5 L1339.0,637.6 L1339.9,637.5 L1340.7,637.6 L1341.6,637.7 L1342.4,637.6 L1343.3,637.5 L1344.1,637.4 L1345.0,637.5 L1345.8,637.5 L1346.7,637.4 L1347.5,637.5 L1348.4,637.5 L1349.2,637.6 L1350.1,637.6 L1350.9,637.6 L1351.8,637.5 L1352.6,637.5 L1353.5,637.5 L1354.3,637.5 L1355.2,637.5 L1356.0,637.4 L1356.9,637.5 L1357.7,637.5 L1358.6,637.6 L1359.4,637.7 L1360.3,637.7 L1361.1,637.6 L1362.0,637.5 L1362.8,637.6 L1363.7,637.5 L1364.5,637.5 L1365.4,637.5 L1366.3,637.3 L1367.1,637.4 L1368.0,637.5 L1368.8,637.3 L1369.7,637.4 L1370.5,637.5 L1371.4,637.5 L1372.2,637.5 L1373.1,637.6 L1373.9,637.6 L1374.8,637.7 L1375.6,637.8 L1376.5,637.8 L1377.3,637.8 L1378.2,637.6 L1379.0,637.4 L1379.9,637.4 L1380.7,637.3 L1381.6,637.5 L1382.4,637.5 L1383.3,637.5 L1384.1,637.4 L1385.0,637.3 L1385.8,637.5 L1386.7,637.5 L1387.5,637.7 L1388.4,637.9 L1389.2,637.8 L1390.1,637.6 L1390.9,637.7 L1391.8,637.6 L1392.6,637.6 L1393.5,637.7 L1394.3,637.6 L1395.2,637.6 L1396.0,637.7 L1396.9,637.6 L1397.8,637.6 L1398.6,637.7 L1399.5,637.7 L1400.3,637.7 L1401.2,637.7 L1402.0,637.7 L1402.9,637.8 L1403.7,637.8 L1404.6,637.8 L1405.4,637.7 L1406.3,637.7 L1407.1,637.6 L1408.0,637.7 L1408.8,637.7 L1409.7,637.6 L1410.5,637.8 L1411.4,637.6 L1412.2,637.7 L1413.1,637.5 L1413.9,637.6 L1414.8,637.7 L1415.6,637.6 L1416.5,637.7 L1417.3,637.7 L1418.2,637.8 L1419.0,638.0 L1419.9,638.0 L1420.7,637.9 L1421.6,637.9 L1422.4,637.8 L1423.3,637.8 L1424.1,637.8 L1425.0,637.6 L1425.8,637.7 L1426.7,637.8 L1427.5,637.9 L1428.4,638.0 L1429.2,638.0 L1430.1,638.0 L1431.0,638.0 L1431.8,638.0 L1432.7,637.8 L1433.5,637.8 L1434.4,637.8 L1435.2,637.7 L1436.1,637.8 L1436.9,637.7 L1437.8,637.8 L1438.6,638.0 L1439.5,637.9 L1440.3,637.9 L1441.2,637.8 L1442.0,637.7 L1442.9,637.7 L1443.7,637.8 L1444.6,637.8 L1445.4,637.8 L1446.3,637.7 L1447.1,637.7 L1448.0,637.7 L1448.8,637.8 L1449.7,637.9 L1450.5,637.8 L1451.4,637.8 L1452.2,637.7 L1453.1,637.6 L1453.9,637.6 L1454.8,637.6 L1455.6,637.4 L1456.5,637.3 L1457.3,637.2 L1458.2,636.9 L1459.0,636.6 L1459.9,636.2 L1460.7,635.6 L1461.6,635.0 L1462.5,634.1 L1463.3,633.0 L1464.2,630.9 L1465.0,627.2 L1465.9,620.6 L1466.7,610.7 L1467.6,600.2 L1468.4,594.7 L1469.3,598.7 L1470.1,607.5 L1471.0,614.5 L1471.8,616.4 L1472.7,614.9 L1473.5,614.2 L1474.4,617.5 L1475.2,623.6 L1476.1,629.3 L1476.9,633.2 L1477.8,635.5 L1478.6,636.5 L1479.5,637.0 L1480.3,637.2 L1481.2,637.5 L1482.0,637.9 L1482.9,637.9 L1483.7,638.1 L1484.6,638.0 L1485.4,638.1 L1486.3,638.1 L1487.1,638.2 L1488.0,638.2 L1488.8,638.1 L1489.7,638.0 L1490.5,638.0 L1491.4,638.1 L1492.2,638.1 L1493.1,638.3 L1494.0,638.3 L1494.8,638.4 L1495.7,638.4 L1496.5,638.4 L1497.4,638.4 L1498.2,638.4 L1499.1,638.3 L1499.9,638.2 L1500.8,638.2 L1501.6,638.1 L1502.5,638.5 L1503.3,638.7 L1504.2,638.6 L1505.0,638.5 L1505.9,638.3 L1506.7,638.3 L1507.6,638.4 L1508.4,638.5 L1509.3,638.5 L1510.1,638.3 L1511.0,638.1 L1511.8,637.9 L1512.7,638.1 L1513.5,638.2 L1514.4,638.3 L1515.2,638.4 L1516.1,638.4 L1516.9,638.4 L1517.8,638.5 L1518.6,638.5 L1519.5,638.4 L1520.3,638.4 L1521.2,638.4 L1522.0,638.4 L1522.9,638.3 L1523.7,638.3 L1524.6,638.4 L1525.5,638.5 L1526.3,638.6 L1527.2,638.7 L1528.0,638.7 L1528.9,638.8 L1529.7,638.7 L1530.6,638.6 L1531.4,638.6 L1532.3,638.5 L1533.1,638.4 L1534.0,638.4 L1534.8,638.3 L1535.7,638.3 L1536.5,638.4 L1537.4,638.5 L1538.2,638.4 L1539.1,638.4 L1539.9,638.4 L1540.8,638.4 L1541.6,638.5 L1542.5,638.5 L1543.3,638.5 L1544.2,638.5 L1545.0,638.4 L1545.9,638.4 L1546.7,638.3 L1547.6,638.2 L1548.4,638.3 L1549.3,638.3 L1550.1,638.3 L1551.0,638.5 L1551.8,638.4 L1552.7,638.5 L1553.5,638.5 L1554.4,638.4 L1555.2,638.5 L1556.1,638.4 L1557.0,638.4 L1557.8,638.4 L1558.7,638.5 L1559.5,638.4 L1560.4,638.6 L1561.2,638.6 L1562.1,638.6 L1562.9,638.5 L1563.8,638.3 L1564.6,638.3 L1565.5,638.4 L1566.3,638.3 L1567.2,638.4 L1568.0,638.3 L1568.9,638.3 L1569.7,638.4 L1570.6,638.4 L1571.4,638.5 L1572.3,638.4 L1573.1,638.4 L1574.0,638.2 L1574.8,638.3 L1575.7,638.3 L1576.5,638.2 L1577.4,638.3 L1578.2,638.3 L1579.1,638.2 L1579.9,638.3 L1580.8,638.2 L1581.6,638.2 L1582.5,638.4 L1583.3,638.3 L1584.2,638.4 L1585.0,638.5 L1585.9,638.4 L1586.7,638.5 L1587.6,638.4 L1588.5,638.4 L1589.3,638.3 L1590.2,638.4 L1591.0,638.4 L1591.9,638.4 L1592.7,638.4 L1593.6,638.4 L1594.4,638.5 L1595.3,638.3 L1596.1,638.3 L1597.0,638.2 L1597.8,638.2 L1598.7,638.4 L1599.5,638.5 L1600.4,638.5 L1601.2,638.5 L1602.1,638.5 L1602.9,638.4 L1603.8,638.5 L1604.6,638.5 L1605.5,638.5 L1606.3,638.4 L1607.2,638.4 L1608.0,638.5 L1608.9,638.3 L1609.7,638.3 L1610.6,638.3 L1611.4,638.1 L1612.3,638.3 L1613.1,638.3 L1614.0,638.3 L1614.8,638.4 L1615.7,638.5 L1616.5,638.5 L1617.4,638.5 L1618.2,638.7 L1619.1,638.6 L1619.9,638.6 L1620.8,638.7 L1621.7,638.5 L1622.5,638.5 L1623.4,638.5 L1624.2,638.4 L1625.1,638.6 L1625.9,638.4 L1626.8,638.5 L1627.6,638.5 L1628.5,638.5 L1629.3,638.5 L1630.2,638.4 L1631.0,638.3 L1631.9,638.2 L1632.7,638.2 L1633.6,638.5 L1634.4,638.6 L1635.3,638.7 L1636.1,638.7 L1637.0,638.5 L1637.8,638.5 L1638.7,638.4 L1639.5,638.5 L1640.4,638.4 L1641.2,638.4 L1642.1,638.4 L1642.9,638.2 L1643.8,638.3 L1644.6,638.1 L1645.5,638.2 L1646.3,638.3 L1647.2,638.3 L1648.0,638.4 L1648.9,638.4 L1649.7,638.4 L1650.6,638.4 L1651.4,638.3 L1652.3,638.5 L1653.2,638.5 L1654.0,638.6 L1654.9,638.6 L1655.7,638.3 L1656.6,638.3 L1657.4,638.2 L1658.3,638.2 L1659.1,638.2 L1660.0,638.0 L1660.8,637.9 L1661.7,637.8 L1662.5,637.9 L1663.4,638.0 L1664.2,637.8 L1665.1,637.5 L1665.9,636.9 L1666.8,636.4 L1667.6,635.9 L1668.5,635.1 L1669.3,634.3 L1670.2,633.1 L1671.0,631.5 L1671.9,628.9 L1672.7,623.7 L1673.6,614.2 L1674.4,600.2 L1675.3,585.3 L1676.1,577.6 L1677.0,583.9 L1677.8,597.6 L1678.7,609.1 L1679.5,614.0 L1680.4,611.9 L1681.2,606.4 L1682.1,603.9 L1682.9,608.5 L1683.8,617.2 L1684.7,625.7 L1685.5,631.2 L1686.4,634.3 L1687.2,635.9 L1688.1,636.5 L1688.9,637.0 L1689.8,637.3 L1690.6,637.7 L1691.5,637.9 L1692.3,637.9 L1693.2,637.9 L1694.0,637.9 L1694.9,637.9 L1695.7,637.8 L1696.6,637.8 L1697.4,637.9 L1698.3,638.1 L1699.1,638.2 L1700.0,638.3 L1700.8,638.1 L1701.7,638.1 L1702.5,638.0 L1703.4,638.1 L1704.2,638.3 L1705.1,638.3 L1705.9,638.4 L1706.8,638.4 L1707.6,638.4 L1708.5,638.5 L1709.3,638.4 L1710.2,638.3 L1711.0,638.3 L1711.9,638.4 L1712.7,638.5 L1713.6,638.6 L1714.4,638.6 L1715.3,638.5 L1716.2,638.4 L1717.0,638.4 L1717.9,638.4 L1718.7,638.5 L1719.6,638.6 L1720.4,638.7 L1721.3,638.7 L1722.1,638.5 L1723.0,638.4 L1723.8,638.4 L1724.7,638.4 L1725.5,638.5 L1726.4,638.5 L1727.2,638.5 L1728.1,638.6 L1728.9,638.5 L1729.8,638.6 L1730.6,638.5 L1731.5,638.5 L1732.3,638.5 L1733.2,638.5 L1734.0,638.5 L1734.9,638.3 L1735.7,638.2 L1736.6,638.2 L1737.4,638.1 L1738.3,638.4 L1739.1,638.5 L1740.0,638.4 L1740.8,638.4 L1741.7,638.3 L1742.5,638.3 L1743.4,638.3 L1744.2,638.3 L1745.1,638.3 L1745.9,638.2 L1746.8,638.1 L1747.7,638.2 L1748.5,638.2 L1749.4,638.2 L1750.2,638.3 L1751.1,638.1 L1751.9,638.1 L1752.8,638.2 L1753.6,638.2 L1754.5,638.3 L1755.3,638.3 L1756.2,638.2 L1757.0,638.2 L1757.9,638.2 L1758.7,638.2 L1759.6,638.0 L1760.4,637.9 L1761.3,637.8 L1762.1,637.7 L1763.0,637.5 L1763.8,637.2 L1764.7,636.8 L1765.5,636.3 L1766.4,635.8 L1767.2,635.0 L1768.1,634.0 L1768.9,632.7 L1769.8,631.1 L1770.6,628.7 L1771.5,624.6 L1772.3,617.0 L1773.2,603.3 L1774.0,583.2 L1774.9,561.8 L1775.7,551.0 L1776.6,560.1 L1777.4,579.9 L1778.3,596.5 L1779.2,603.4 L1780.0,600.4 L1780.9,592.7 L1781.7,588.9 L1782.6,595.6 L1783.4,608.3 L1784.3,620.2 L1785.1,628.4 L1786.0,632.8 L1786.8,635.0 L1787.7,636.1 L1788.5,636.6 L1789.4,637.1 L1790.2,637.4 L1791.1,637.6 L1791.9,637.7 L1792.8,637.7 L1793.6,637.8 L1794.5,637.9 L1795.3,638.0 L1796.2,638.1 L1797.0,638.1 L1797.9,638.1 L1798.7,638.0 L1799.6,638.1 L1800.4,638.2 L1801.3,638.3 L1802.1,638.4 L1803.0,638.4 L1803.8,638.4 L1804.7,638.5 L1805.5,638.6 L1806.4,638.4 L1807.2,638.5 L1808.1,638.4 L1808.9,638.3 L1809.8,638.4 L1810.6,638.4 L1811.5,638.4 L1812.4,638.5 L1813.2,638.6 L1814.1,638.5 L1814.9,638.5 L1815.8,638.4 L1816.6,638.4 L1817.5,638.5 L1818.3,638.7 L1819.2,638.6 L1820.0,638.6 L1820.9,638.6 L1821.7,638.4 L1822.6,638.5 L1823.4,638.5 L1824.3,638.5 L1825.1,638.5 L1826.0,638.5 L1826.8,638.6 L1827.7,638.7 L1828.5,638.7 L1829.4,638.6 L1830.2,638.6 L1831.1,638.4 L1831.9,638.5 L1832.8,638.5 L1833.6,638.5 L1834.5,638.5 L1835.3,638.4 L1836.2,638.5 L1837.0,638.6 L1837.9,638.6 L1838.7,638.7 L1839.6,638.5 L1840.4,638.4 L1841.3,638.3 L1842.1,638.3 L1843.0,638.4 L1843.9,638.5 L1844.7,638.5 L1845.6,638.5 L1846.4,638.4 L1847.3,638.5 L1848.1,638.6 L1849.0,638.6 L1849.8,638.6 L1850.7,638.5 L1851.5,638.5 L1852.4,638.4 L1853.2,638.4 L1854.1,638.4 L1854.9,638.4 L1855.8,638.4 L1856.6,638.4 L1857.5,638.2 L1858.3,638.3 L1859.2,638.1 L1860.0,637.8 L1860.9,637.7 L1861.7,637.2 L1862.6,636.7 L1863.4,636.0 L1864.3,635.1 L1865.1,634.0 L1866.0,632.7 L1866.8,631.0 L1867.7,628.0 L1868.5,622.2 L1869.4,611.7 L1870.2,596.1 L1871.1,579.4 L1871.9,571.2 L1872.8,578.6 L1873.6,594.7 L1874.5,609.3 L1875.4,617.3 L1876.2,617.7 L1877.1,612.4 L1877.9,604.8 L1878.8,601.2 L1879.6,606.0 L1880.5,615.5 L1881.3,624.5 L1882.2,630.8 L1883.0,634.3 L1883.9,636.2 L1884.7,637.2 L1885.6,637.6 L1886.4,637.8 L1887.3,637.9 L1888.1,637.9 L1889.0,638.1 L1889.8,638.4 L1890.7,638.4 L1891.5,638.4 L1892.4,638.4 L1893.2,638.4 L1894.1,638.4 L1894.9,638.6 L1895.8,638.6 L1896.6,638.6 L1897.5,638.6 L1898.3,638.6 L1899.2,638.5 L1900.0,638.6 L1900.9,638.6 L1901.7,638.7 L1902.6,638.7 L1903.4,638.7 L1904.3,638.7 L1905.1,638.7 L1906.0,638.7 L1906.9,638.6 L1907.7,638.6 L1908.6,638.6 L1909.4,638.5 L1910.3,638.6 L1911.1,638.5 L1912.0,638.5 L1912.8,638.6 L1913.7,638.7 L1914.5,638.9 L1915.4,638.9 L1916.2,639.0 L1917.1,639.0 L1917.9,638.8 L1918.8,638.8 L1919.6,638.8 L1920.5,638.9 L1921.3,638.7 L1922.2,638.7 L1923.0,638.7 L1923.9,638.6 L1924.7,638.8 L1925.6,638.8 L1926.4,638.9 L1927.3,638.9 L1928.1,638.8 L1929.0,638.8 L1929.8,638.7 L1930.7,638.8 L1931.5,638.7 L1932.4,638.6 L1933.2,638.7 L1934.1,638.8 L1934.9,638.8 L1935.8,638.7 L1936.6,638.9 L1937.5,638.8 L1938.4,638.8 L1939.2,638.9 L1940.1,638.7 L1940.9,638.7 L1941.8,638.8 L1942.6,638.9 L1943.5,638.9 L1944.3,639.0 L1945.2,638.9 L1946.0,638.9 L1946.9,638.9 L1947.7,638.8 L1948.6,638.8 L1949.4,638.8 L1950.3,638.8 L1951.1,638.8 L1952.0,638.8 L1952.8,638.7 L1953.7,638.7 L1954.5,638.8 L1955.4,638.8 L1956.2,639.0 L1957.1,639.1 L1957.9,639.0 L1958.8,638.9 L1959.6,638.8 L1960.5,638.7 L1961.3,638.8 L1962.2,638.9 L1963.0,638.9 L1963.9,638.9 L1964.7,638.9 L1965.6,639.0 L1966.4,639.1 L1967.3,639.0 L1968.1,638.9 L1969.0,638.7 L1969.9,638.6 L1970.7,638.5 L1971.6,638.6 L1972.4,638.5 L1973.3,638.6 L1974.1,638.7 L1975.0,638.8 L1975.8,638.9 L1976.7,638.9 L1977.5,639.0 L1978.4,638.8 L1979.2,638.8 L1980.1,638.7 L1980.9,638.6 L1981.8,638.7 L1982.6,638.7 L1983.5,638.8 L1984.3,639.0 L1985.2,639.0 L1986.0,639.0 L1986.9,638.9 L1987.7,638.8 L1988.6,638.8 L1989.4,638.8 L1990.3,638.8 L1991.1,638.8 L1992.0,638.8 L1992.8,639.0 L1993.7,639.0 L1994.5,639.0 L1995.4,638.9 L1996.2,638.7 L1997.1,638.6 L1997.9,638.5 L1998.8,638.5 L1999.6,638.6 L2000.5,638.5 L2001.4,638.7 L2002.2,638.9 L2003.1,638.9 L2003.9,639.0 L2004.8,638.8 L2005.6,638.7 L2006.5,638.7 L2007.3,638.6 L2008.2,638.6 L2009.0,638.7 L2009.9,638.6 L2010.7,638.6 L2011.6,638.7 L2012.4,638.6 L2013.3,638.7 L2014.1,638.8 L2015.0,638.8 L2015.8,638.8 L2016.7,638.8 L2017.5,638.7 L2018.4,638.8 L2019.2,638.8 L2020.1,638.8 L2020.9,638.8 L2021.8,638.6 L2022.6,638.6 L2023.5,638.5 L2024.3,638.7 L2025.2,638.6 L2026.0,638.7 L2026.9,638.7 L2027.7,638.6 L2028.6,638.7 L2029.4,638.7 L2030.3,638.9 L2031.1,638.8 L2032.0,638.9 L2032.8,638.8 L2033.7,638.7 L2034.6,638.7 L2035.4,638.6 L2036.3,638.7 L2037.1,638.6 L2038.0,638.4 L2038.8,638.4 L2039.7,638.3 L2040.5,638.3 L2041.4,638.5 L2042.2,638.7 L2043.1,638.7 L2043.9,638.7 L2044.8,638.6 L2045.6,638.4 L2046.5,638.3 L2047.3,638.0 L2048.2,637.7 L2049.0,637.4 L2049.9,637.1 L2050.7,636.6 L2051.6,636.0 L2052.4,634.7 L2053.3,632.2 L2054.1,627.9 L2055.0,621.6 L2055.8,614.9 L2056.7,611.5 L2057.5,614.3 L2058.4,620.7 L2059.2,626.8 L2060.1,630.2 L2060.9,630.4 L2061.8,628.3 L2062.6,625.1 L2063.5,623.7 L2064.3,625.7 L2065.2,629.4 L2066.1,633.0 L2066.9,635.6 L2067.8,637.0 L2068.6,637.8 L2069.5,638.1 L2070.3,638.3 L2071.2,638.4 L2072.0,638.4 L2072.9,638.6 L2073.7,638.6 L2074.6,638.6 L2075.4,638.7 L2076.3,638.7 L2077.1,638.8 L2078.0,638.8 L2078.8,638.8 L2079.7,638.8 L2080.5,638.9 L2081.4,638.8 L2082.2,638.8 L2083.1,638.8 L2083.9,638.5 L2084.8,638.5 L2085.6,638.5 L2086.5,638.6 L2087.3,638.7 L2088.2,638.8 L2089.0,638.9 L2089.9,638.9 L2090.7,638.9 L2091.6,638.9 L2092.4,638.8 L2093.3,638.7 L2094.1,638.8 L2095.0,638.7 L2095.8,638.7 L2096.7,638.8 L2097.6,638.5 L2098.4,638.7 L2099.3,638.6 L2100.1,638.6 L2101.0,638.8 L2101.8,638.6 L2102.7,638.7 L2103.5,638.6 L2104.4,638.7 L2105.2,638.9 L2106.1,638.7 L2106.9,638.8 L2107.8,638.8 L2108.6,638.8 L2109.5,638.9 L2110.3,638.8 L2111.2,638.8 L2112.0,638.7 L2112.9,638.9 L2113.7,638.9 L2114.6,638.8 L2115.4,638.8 L2116.3,638.7 L2117.1,638.7 L2118.0,638.6 L2118.8,638.7 L2119.7,638.7 L2120.5,638.7 L2121.4,638.9 L2122.2,638.7 L2123.1,638.6 L2123.9,638.7 L2124.8,638.6 L2125.6,638.7 L2126.5,638.8 L2127.3,638.8 L2128.2,638.8 L2129.1,638.7 L2129.9,638.7 L2130.8,638.6 L2131.6,638.7 L2132.5,638.8 L2133.3,638.9 L2134.2,638.9 L2135.0,638.7 L2135.9,638.7 L2136.7,638.6 L2137.6,638.6 L2138.4,638.7 L2139.3,638.8 L2140.1,638.8 L2141.0,638.9 L2141.8,638.9 L2142.7,638.7 L2143.5,638.7 L2144.4,638.6 L2145.2,638.6 L2146.1,638.6 L2146.9,638.6 L2147.8,638.6 L2148.6,638.5 L2149.5,638.5 L2150.3,638.5 L2151.2,638.7 L2152.0,638.8 L2152.9,638.8 L2153.7,638.8 L2154.6,638.8 L2155.4,638.8 L2156.3,638.9 L2157.1,638.8 L2158.0,638.6 L2158.8,638.5 L2159.7,638.5 L2160.6,638.5 L2161.4,638.5 L2162.3,638.5 L2163.1,638.4 L2164.0,638.4 L2164.8,638.5 L2165.7,638.5 L2166.5,638.7 L2167.4,638.8 L2168.2,638.9 L2169.1,639.0 L2169.9,638.9 L2170.8,639.0 L2171.6,639.0 L2172.5,639.0 L2173.3,639.0 L2174.2,638.9 L2175.0,638.6 L2175.9,638.5 L2176.7,638.4 L2177.6,638.4 L2178.4,638.6 L2179.3,638.6 L2180.1,638.9 L2181.0,638.9 L2181.8,638.8 L2182.7,638.8 L2183.5,638.7 L2184.4,638.7 L2185.2,638.8 L2186.1,638.9 L2186.9,638.9 L2187.8,638.8 L2188.6,638.8 L2189.5,638.8 L2190.3,638.8 L2191.2,638.9 L2192.1,638.9 L2192.9,638.9 L2193.8,638.7 L2194.6,638.8 L2195.5,638.8 L2196.3,638.7 L2197.2,638.8 L2198.0,638.8 L2198.9,638.8 L2199.7,638.6 L2200.6,638.7"/>
<path class="cv" d="M285.9,1388.4 L286.8,1389.6 L287.6,1389.6 L288.5,1389.5 L289.3,1388.7 L290.2,1388.7 L291.0,1389.0 L291.9,1389.5 L292.7,1388.6 L293.6,1387.8 L294.4,1387.1 L295.3,1386.7 L296.1,1387.1 L297.0,1387.8 L297.8,1387.8 L298.7,1387.6 L299.5,1387.9 L300.4,1388.8 L301.2,1389.7 L302.1,1388.5 L302.9,1388.2 L303.8,1388.1 L304.6,1390.1 L305.5,1391.2 L306.3,1390.4 L307.2,1389.7 L308.0,1390.1 L308.9,1391.8 L309.7,1390.7 L310.6,1390.2 L311.4,1391.2 L312.3,1391.5 L313.1,1391.9 L314.0,1390.0 L314.8,1389.9 L315.7,1389.5 L316.5,1390.8 L317.4,1392.5 L318.3,1392.3 L319.1,1391.4 L320.0,1390.1 L320.8,1389.4 L321.7,1390.3 L322.5,1392.0 L323.4,1394.5 L324.2,1393.9 L325.1,1393.8 L325.9,1393.7 L326.8,1393.9 L327.6,1393.2 L328.5,1392.4 L329.3,1392.8 L330.2,1394.1 L331.0,1393.9 L331.9,1393.1 L332.7,1392.6 L333.6,1393.4 L334.4,1393.1 L335.3,1392.0 L336.1,1391.6 L337.0,1392.5 L337.8,1393.5 L338.7,1394.7 L339.5,1395.1 L340.4,1395.2 L341.2,1394.2 L342.1,1395.0 L342.9,1395.9 L343.8,1396.3 L344.6,1395.4 L345.5,1395.9 L346.3,1396.8 L347.2,1396.8 L348.0,1394.6 L348.9,1394.0 L349.8,1395.4 L350.6,1396.2 L351.5,1396.4 L352.3,1395.4 L353.2,1396.3 L354.0,1397.4 L354.9,1397.1 L355.7,1396.6 L356.6,1395.7 L357.4,1396.2 L358.3,1395.8 L359.1,1396.5 L360.0,1397.1 L360.8,1398.4 L361.7,1398.9 L362.5,1398.7 L363.4,1398.7 L364.2,1397.6 L365.1,1397.9 L365.9,1397.8 L366.8,1398.1 L367.6,1397.3 L368.5,1398.0 L369.3,1398.1 L370.2,1398.3 L371.0,1395.9 L371.9,1395.6 L372.7,1396.2 L373.6,1397.5 L374.4,1397.2 L375.3,1395.3 L376.1,1393.4 L377.0,1389.4 L377.8,1386.2 L378.7,1379.8 L379.5,1365.9 L380.4,1338.8 L381.3,1302.7 L382.1,1279.1 L383.0,1285.5 L383.8,1303.0 L384.7,1322.4 L385.5,1344.3 L386.4,1367.8 L387.2,1382.6 L388.1,1391.6 L388.9,1395.3 L389.8,1397.6 L390.6,1398.5 L391.5,1400.6 L392.3,1400.9 L393.2,1401.1 L394.0,1400.3 L394.9,1400.6 L395.7,1400.9 L396.6,1400.2 L397.4,1399.5 L398.3,1399.9 L399.1,1401.1 L400.0,1402.0 L400.8,1402.0 L401.7,1401.9 L402.5,1401.5 L403.4,1401.8 L404.2,1402.4 L405.1,1403.4 L405.9,1404.1 L406.8,1403.2 L407.6,1402.8 L408.5,1401.6 L409.3,1402.4 L410.2,1402.1 L411.0,1402.1 L411.9,1401.4 L412.7,1401.8 L413.6,1401.5 L414.5,1401.0 L415.3,1401.5 L416.2,1402.9 L417.0,1403.7 L417.9,1402.4 L418.7,1403.3 L419.6,1404.0 L420.4,1405.3 L421.3,1404.0 L422.1,1403.8 L423.0,1404.1 L423.8,1404.6 L424.7,1404.3 L425.5,1403.5 L426.4,1404.1 L427.2,1404.2 L428.1,1404.4 L428.9,1403.3 L429.8,1402.7 L430.6,1403.4 L431.5,1405.1 L432.3,1406.6 L433.2,1406.9 L434.0,1405.9 L434.9,1405.5 L435.7,1405.0 L436.6,1405.3 L437.4,1406.3 L438.3,1405.5 L439.1,1405.3 L440.0,1404.4 L440.8,1404.8 L441.7,1405.6 L442.5,1404.8 L443.4,1405.9 L444.2,1406.0 L445.1,1407.3 L446.0,1407.5 L446.8,1408.4 L447.7,1408.4 L448.5,1408.1 L449.4,1407.2 L450.2,1407.5 L451.1,1406.9 L451.9,1406.4 L452.8,1406.5 L453.6,1406.6 L454.5,1407.5 L455.3,1407.7 L456.2,1407.8 L457.0,1407.5 L457.9,1407.2 L458.7,1407.5 L459.6,1407.9 L460.4,1408.0 L461.3,1408.3 L462.1,1406.8 L463.0,1407.1 L463.8,1406.3 L464.7,1407.2 L465.5,1407.8 L466.4,1409.5 L467.2,1409.5 L468.1,1408.2 L468.9,1407.5 L469.8,1407.6 L470.6,1408.5 L471.5,1407.7 L472.3,1408.5 L473.2,1409.2 L474.0,1409.2 L474.9,1408.3 L475.7,1407.3 L476.6,1408.4 L477.5,1407.9 L478.3,1408.4 L479.2,1408.0 L480.0,1408.7 L480.9,1409.0 L481.7,1408.2 L482.6,1408.0 L483.4,1407.3 L484.3,1408.7 L485.1,1409.3 L486.0,1409.3 L486.8,1409.3 L487.7,1409.3 L488.5,1409.5 L489.4,1409.2 L490.2,1409.6 L491.1,1411.3 L491.9,1411.0 L492.8,1411.1 L493.6,1409.7 L494.5,1410.2 L495.3,1410.9 L496.2,1411.4 L497.0,1411.9 L497.9,1411.0 L498.7,1410.3 L499.6,1410.2 L500.4,1410.4 L501.3,1410.6 L502.1,1410.8 L503.0,1410.5 L503.8,1410.5 L504.7,1410.6 L505.5,1411.2 L506.4,1411.9 L507.2,1411.2 L508.1,1411.7 L509.0,1411.1 L509.8,1412.2 L510.7,1412.3 L511.5,1412.9 L512.4,1413.1 L513.2,1412.9 L514.1,1412.4 L514.9,1412.4 L515.8,1412.5 L516.6,1413.4 L517.5,1412.7 L518.3,1413.1 L519.2,1412.2 L520.0,1411.6 L520.9,1410.4 L521.7,1411.2 L522.6,1410.9 L523.4,1410.7 L524.3,1409.8 L525.1,1410.8 L526.0,1411.9 L526.8,1412.2 L527.7,1412.5 L528.5,1412.4 L529.4,1413.4 L530.2,1413.5 L531.1,1413.1 L531.9,1412.6 L532.8,1412.1 L533.6,1412.7 L534.5,1412.7 L535.3,1412.9 L536.2,1413.0 L537.0,1413.0 L537.9,1413.3 L538.7,1413.0 L539.6,1413.0 L540.5,1413.1 L541.3,1413.5 L542.2,1414.2 L543.0,1414.1 L543.9,1413.6 L544.7,1413.1 L545.6,1412.9 L546.4,1412.2 L547.3,1411.7 L548.1,1412.3 L549.0,1413.1 L549.8,1412.4 L550.7,1411.6 L551.5,1411.8 L552.4,1412.5 L553.2,1413.7 L554.1,1414.1 L554.9,1415.1 L555.8,1414.0 L556.6,1413.7 L557.5,1413.8 L558.3,1414.1 L559.2,1413.6 L560.0,1413.3 L560.9,1413.2 L561.7,1413.6 L562.6,1413.1 L563.4,1413.1 L564.3,1413.0 L565.1,1413.6 L566.0,1413.6 L566.8,1412.9 L567.7,1413.2 L568.5,1413.5 L569.4,1413.5 L570.2,1413.1 L571.1,1412.4 L572.0,1412.8 L572.8,1413.3 L573.7,1414.0 L574.5,1415.1 L575.4,1414.7 L576.2,1413.9 L577.1,1413.1 L577.9,1411.9 L578.8,1413.3 L579.6,1413.3 L580.5,1414.6 L581.3,1413.9 L582.2,1413.4 L583.0,1413.1 L583.9,1412.7 L584.7,1412.9 L585.6,1413.1 L586.4,1412.9 L587.3,1413.8 L588.1,1413.2 L589.0,1414.1 L589.8,1413.0 L590.7,1412.9 L591.5,1412.6 L592.4,1412.9 L593.2,1413.3 L594.1,1413.0 L594.9,1412.5 L595.8,1412.5 L596.6,1411.9 L597.5,1411.6 L598.3,1411.0 L599.2,1409.5 L600.0,1408.1 L600.9,1406.5 L601.7,1406.6 L602.6,1406.6 L603.4,1407.6 L604.3,1408.9 L605.2,1410.5 L606.0,1410.6 L606.9,1411.4 L607.7,1412.1 L608.6,1413.0 L609.4,1412.3 L610.3,1411.6 L611.1,1412.4 L612.0,1413.5 L612.8,1414.0 L613.7,1412.5 L614.5,1412.1 L615.4,1411.8 L616.2,1412.7 L617.1,1411.5 L617.9,1411.1 L618.8,1409.4 L619.6,1408.7 L620.5,1406.0 L621.3,1402.7 L622.2,1395.9 L623.0,1385.0 L623.9,1351.4 L624.7,1301.5 L625.6,1318.7 L626.4,1294.5 L627.3,1172.4 L628.1,974.1 L629.0,879.2 L629.8,983.8 L630.7,1122.7 L631.5,1160.3 L632.4,1159.0 L633.2,1224.5 L634.1,1314.5 L634.9,1370.7 L635.8,1393.9 L636.7,1402.4 L637.5,1406.3 L638.4,1407.8 L639.2,1408.9 L640.1,1408.9 L640.9,1409.8 L641.8,1410.4 L642.6,1410.9 L643.5,1409.6 L644.3,1409.4 L645.2,1411.1 L646.0,1412.7 L646.9,1412.9 L647.7,1411.9 L648.6,1412.6 L649.4,1413.2 L650.3,1413.2 L651.1,1412.2 L652.0,1412.1 L652.8,1411.7 L653.7,1412.5 L654.5,1413.4 L655.4,1414.5 L656.2,1414.2 L657.1,1413.1 L657.9,1412.1 L658.8,1412.6 L659.6,1413.4 L660.5,1414.4 L661.3,1414.4 L662.2,1413.7 L663.0,1412.5 L663.9,1412.9 L664.7,1413.1 L665.6,1414.9 L666.4,1413.5 L667.3,1413.4 L668.2,1412.2 L669.0,1413.3 L669.9,1414.2 L670.7,1414.4 L671.6,1414.6 L672.4,1413.7 L673.3,1413.8 L674.1,1413.0 L675.0,1413.4 L675.8,1413.4 L676.7,1414.1 L677.5,1415.9 L678.4,1415.6 L679.2,1415.5 L680.1,1414.3 L680.9,1415.0 L681.8,1415.7 L682.6,1415.0 L683.5,1415.3 L684.3,1414.4 L685.2,1415.3 L686.0,1415.0 L686.9,1415.5 L687.7,1414.9 L688.6,1414.1 L689.4,1413.6 L690.3,1414.2 L691.1,1414.9 L692.0,1415.7 L692.8,1414.9 L693.7,1415.3 L694.5,1415.5 L695.4,1415.1 L696.2,1415.0 L697.1,1415.5 L697.9,1416.1 L698.8,1416.4 L699.7,1415.7 L700.5,1416.4 L701.4,1415.8 L702.2,1415.4 L703.1,1414.9 L703.9,1414.9 L704.8,1415.0 L705.6,1414.8 L706.5,1415.4 L707.3,1415.4 L708.2,1415.3 L709.0,1414.4 L709.9,1414.9 L710.7,1414.4 L711.6,1415.0 L712.4,1415.1 L713.3,1416.7 L714.1,1416.2 L715.0,1415.6 L715.8,1415.1 L716.7,1415.4 L717.5,1416.3 L718.4,1416.2 L719.2,1416.0 L720.1,1414.8 L720.9,1414.7 L721.8,1414.9 L722.6,1416.0 L723.5,1416.1 L724.3,1416.6 L725.2,1416.7 L726.0,1416.3 L726.9,1415.2 L727.7,1414.4 L728.6,1414.6 L729.4,1414.7 L730.3,1415.3 L731.2,1415.6 L732.0,1416.5 L732.9,1416.3 L733.7,1415.7 L734.6,1415.4 L735.4,1414.8 L736.3,1415.0 L737.1,1414.5 L738.0,1415.3 L738.8,1411.5 L739.7,1409.6 L740.5,1406.8 L741.4,1405.5 L742.2,1404.7 L743.1,1404.1 L743.9,1404.6 L744.8,1405.1 L745.6,1404.7 L746.5,1404.5 L747.3,1402.8 L748.2,1402.3 L749.0,1400.7 L749.9,1398.8 L750.7,1396.4 L751.6,1392.3 L752.4,1388.6 L753.3,1381.4 L754.1,1371.7 L755.0,1357.5 L755.8,1334.3 L756.7,1280.3 L757.5,1162.3 L758.4,989.4 L759.2,884.2 L760.1,959.7 L760.9,1083.7 L761.8,1130.2 L762.7,1142.3 L763.5,1208.4 L764.4,1298.2 L765.2,1359.6 L766.1,1388.6 L766.9,1400.0 L767.8,1404.6 L768.6,1407.5 L769.5,1408.5 L770.3,1411.1 L771.2,1410.9 L772.0,1411.6 L772.9,1411.1 L773.7,1412.9 L774.6,1413.0 L775.4,1413.0 L776.3,1413.4 L777.1,1413.7 L778.0,1414.4 L778.8,1414.0 L779.7,1414.6 L780.5,1414.1 L781.4,1414.1 L782.2,1414.1 L783.1,1414.9 L783.9,1415.8 L784.8,1416.2 L785.6,1416.5 L786.5,1416.2 L787.3,1416.7 L788.2,1416.3 L789.0,1416.4 L789.9,1415.4 L790.7,1415.4 L791.6,1415.9 L792.4,1416.5 L793.3,1416.0 L794.1,1415.5 L795.0,1415.2 L795.9,1415.4 L796.7,1415.4 L797.6,1415.2 L798.4,1415.4 L799.3,1415.1 L800.1,1414.4 L801.0,1414.3 L801.8,1413.2 L802.7,1412.8 L803.5,1412.3 L804.4,1412.5 L805.2,1412.8 L806.1,1412.5 L806.9,1412.8 L807.8,1412.6 L808.6,1413.4 L809.5,1413.6 L810.3,1414.1 L811.2,1413.9 L812.0,1414.8 L812.9,1415.3 L813.7,1417.0 L814.6,1416.7 L815.4,1417.8 L816.3,1416.3 L817.1,1417.2 L818.0,1417.4 L818.8,1418.7 L819.7,1418.8 L820.5,1418.9 L821.4,1419.6 L822.2,1419.8 L823.1,1419.7 L823.9,1418.9 L824.8,1417.5 L825.6,1417.5 L826.5,1417.9 L827.4,1418.9 L828.2,1419.2 L829.1,1418.2 L829.9,1418.7 L830.8,1418.7 L831.6,1419.2 L832.5,1419.3 L833.3,1419.9 L834.2,1420.2 L835.0,1419.1 L835.9,1418.6 L836.7,1418.4 L837.6,1418.7 L838.4,1417.9 L839.3,1417.6 L840.1,1417.9 L841.0,1418.5 L841.8,1418.4 L842.7,1418.6 L843.5,1418.7 L844.4,1418.9 L845.2,1418.4 L846.1,1416.1 L846.9,1413.6 L847.8,1411.4 L848.6,1410.4 L849.5,1412.5 L850.3,1411.5 L851.2,1410.8 L852.0,1409.2 L852.9,1410.3 L853.7,1410.1 L854.6,1410.5 L855.4,1410.8 L856.3,1410.8 L857.1,1410.7 L858.0,1410.9 L858.9,1411.5 L859.7,1410.5 L860.6,1410.4 L861.4,1409.2 L862.3,1409.4 L863.1,1407.2 L864.0,1405.5 L864.8,1402.4 L865.7,1398.8 L866.5,1392.9 L867.4,1384.7 L868.2,1372.9 L869.1,1353.1 L869.9,1305.9 L870.8,1205.2 L871.6,1057.9 L872.5,969.6 L873.3,1036.0 L874.2,1144.9 L875.0,1188.8 L875.9,1200.6 L876.7,1254.6 L877.6,1325.8 L878.4,1375.0 L879.3,1397.7 L880.1,1406.4 L881.0,1410.5 L881.8,1413.5 L882.7,1416.1 L883.5,1417.6 L884.4,1417.9 L885.2,1418.1 L886.1,1418.0 L886.9,1418.3 L887.8,1418.6 L888.6,1419.2 L889.5,1419.6 L890.4,1419.9 L891.2,1419.8 L892.1,1419.8 L892.9,1420.4 L893.8,1421.0 L894.6,1420.9 L895.5,1420.3 L896.3,1420.3 L897.2,1421.5 L898.0,1421.8 L898.9,1421.0 L899.7,1419.7 L900.6,1420.0 L901.4,1420.5 L902.3,1420.9 L903.1,1421.2 L904.0,1420.9 L904.8,1420.8 L905.7,1420.1 L906.5,1421.0 L907.4,1421.6 L908.2,1422.6 L909.1,1421.8 L909.9,1422.0 L910.8,1421.6 L911.6,1422.2 L912.5,1422.0 L913.3,1421.8 L914.2,1421.5 L915.0,1420.7 L915.9,1420.7 L916.7,1420.7 L917.6,1420.8 L918.4,1421.1 L919.3,1421.7 L920.1,1421.8 L921.0,1420.8 L921.9,1419.2 L922.7,1418.8 L923.6,1419.2 L924.4,1419.5 L925.3,1420.1 L926.1,1419.5 L927.0,1420.2 L927.8,1421.0 L928.7,1421.9 L929.5,1422.0 L930.4,1421.6 L931.2,1421.9 L932.1,1422.3 L932.9,1422.5 L933.8,1422.0 L934.6,1421.0 L935.5,1419.7 L936.3,1418.1 L937.2,1416.2 L938.0,1413.3 L938.9,1406.0 L939.7,1390.2 L940.6,1366.8 L941.4,1353.3 L942.3,1365.6 L943.1,1386.2 L944.0,1395.0 L944.8,1390.4 L945.7,1387.4 L946.5,1395.2 L947.4,1408.3 L948.2,1417.2 L949.1,1421.2 L949.9,1422.7 L950.8,1422.7 L951.6,1423.3 L952.5,1423.8 L953.4,1424.2 L954.2,1424.8 L955.1,1424.9 L955.9,1425.2 L956.8,1425.0 L957.6,1425.3 L958.5,1425.6 L959.3,1425.2 L960.2,1425.0 L961.0,1424.7 L961.9,1424.7 L962.7,1423.8 L963.6,1423.8 L964.4,1424.3 L965.3,1425.7 L966.1,1425.6 L967.0,1425.8 L967.8,1425.5 L968.7,1425.6 L969.5,1425.3 L970.4,1425.3 L971.2,1425.6 L972.1,1425.8 L972.9,1426.2 L973.8,1426.0 L974.6,1426.0 L975.5,1425.5 L976.3,1425.8 L977.2,1425.7 L978.0,1426.2 L978.9,1425.4 L979.7,1425.8 L980.6,1425.8 L981.4,1426.2 L982.3,1425.6 L983.1,1425.4 L984.0,1425.7 L984.9,1426.1 L985.7,1425.9 L986.6,1426.2 L987.4,1426.4 L988.3,1426.5 L989.1,1426.5 L990.0,1426.5 L990.8,1426.5 L991.7,1426.5 L992.5,1426.4 L993.4,1426.9 L994.2,1426.4 L995.1,1426.6 L995.9,1426.7 L996.8,1427.1 L997.6,1427.1 L998.5,1426.8 L999.3,1426.9 L1000.2,1426.7 L1001.0,1426.7 L1001.9,1426.2 L1002.7,1426.6 L1003.6,1425.9 L1004.4,1425.9 L1005.3,1424.3 L1006.1,1423.8 L1007.0,1422.4 L1007.8,1420.2 L1008.7,1417.5 L1009.5,1412.6 L1010.4,1406.7 L1011.2,1395.6 L1012.1,1370.7 L1012.9,1317.5 L1013.8,1239.5 L1014.6,1192.9 L1015.5,1233.1 L1016.3,1302.4 L1017.2,1335.9 L1018.1,1326.9 L1018.9,1316.3 L1019.8,1340.5 L1020.6,1378.6 L1021.5,1405.4 L1022.3,1416.9 L1023.2,1422.2 L1024.0,1424.4 L1024.9,1425.5 L1025.7,1425.0 L1026.6,1424.5 L1027.4,1425.5 L1028.3,1426.3 L1029.1,1427.4 L1030.0,1426.8 L1030.8,1426.9 L1031.7,1426.6 L1032.5,1427.5 L1033.4,1427.8 L1034.2,1427.6 L1035.1,1427.4 L1035.9,1427.6 L1036.8,1428.1 L1037.6,1428.0 L1038.5,1427.8 L1039.3,1427.7 L1040.2,1427.0 L1041.0,1427.3 L1041.9,1427.7 L1042.7,1428.6 L1043.6,1428.2 L1044.4,1427.3 L1045.3,1427.5 L1046.1,1427.6 L1047.0,1427.9 L1047.8,1427.4 L1048.7,1427.3 L1049.6,1427.2 L1050.4,1427.4 L1051.3,1427.1 L1052.1,1427.3 L1053.0,1426.4 L1053.8,1425.8 L1054.7,1424.3 L1055.5,1422.8 L1056.4,1420.9 L1057.2,1418.2 L1058.1,1415.0 L1058.9,1412.5 L1059.8,1410.2 L1060.6,1409.0 L1061.5,1409.0 L1062.3,1410.6 L1063.2,1412.9 L1064.0,1415.1 L1064.9,1417.6 L1065.7,1420.6 L1066.6,1422.8 L1067.4,1424.1 L1068.3,1425.0 L1069.1,1426.4 L1070.0,1427.6 L1070.8,1428.3 L1071.7,1428.8 L1072.5,1429.5 L1073.4,1429.9 L1074.2,1429.9 L1075.1,1429.7 L1075.9,1429.7 L1076.8,1429.6 L1077.6,1429.5 L1078.5,1429.8 L1079.3,1430.0 L1080.2,1430.3 L1081.1,1430.3 L1081.9,1430.4 L1082.8,1430.4 L1083.6,1430.2 L1084.5,1430.0 L1085.3,1430.7 L1086.2,1430.4 L1087.0,1430.7 L1087.9,1430.6 L1088.7,1430.8 L1089.6,1430.6 L1090.4,1430.1 L1091.3,1429.9 L1092.1,1430.6 L1093.0,1430.8 L1093.8,1431.0 L1094.7,1430.5 L1095.5,1430.6 L1096.4,1430.9 L1097.2,1430.8 L1098.1,1430.9 L1098.9,1430.8 L1099.8,1431.0 L1100.6,1430.9 L1101.5,1431.0 L1102.3,1431.1 L1103.2,1430.9 L1104.0,1431.9 L1104.9,1431.8 L1105.7,1432.2 L1106.6,1431.2 L1107.4,1431.0 L1108.3,1430.7 L1109.1,1430.9 L1110.0,1431.1 L1110.8,1431.0 L1111.7,1431.3 L1112.6,1431.8 L1113.4,1432.1 L1114.3,1431.5 L1115.1,1430.9 L1116.0,1430.0 L1116.8,1428.7 L1117.7,1426.5 L1118.5,1423.1 L1119.4,1417.1 L1120.2,1402.6 L1121.1,1381.5 L1121.9,1368.9 L1122.8,1380.2 L1123.6,1399.4 L1124.5,1408.8 L1125.3,1407.4 L1126.2,1404.5 L1127.0,1409.9 L1127.9,1419.4 L1128.7,1426.2 L1129.6,1429.8 L1130.4,1430.8 L1131.3,1431.7 L1132.1,1431.7 L1133.0,1431.4 L1133.8,1431.3 L1134.7,1431.0 L1135.5,1431.7 L1136.4,1432.4 L1137.2,1432.7 L1138.1,1432.7 L1138.9,1431.8 L1139.8,1431.8 L1140.6,1431.7 L1141.5,1432.3 L1142.3,1432.6 L1143.2,1433.1 L1144.1,1433.2 L1144.9,1433.1 L1145.8,1432.4 L1146.6,1432.6 L1147.5,1432.5 L1148.3,1432.5 L1149.2,1432.5 L1150.0,1432.3 L1150.9,1433.1 L1151.7,1433.2 L1152.6,1433.4 L1153.4,1433.6 L1154.3,1433.5 L1155.1,1433.4 L1156.0,1433.0 L1156.8,1433.1 L1157.7,1433.0 L1158.5,1433.2 L1159.4,1433.3 L1160.2,1433.4 L1161.1,1432.7 L1161.9,1432.8 L1162.8,1433.3 L1163.6,1433.8 L1164.5,1433.7 L1165.3,1433.8 L1166.2,1433.5 L1167.0,1433.6 L1167.9,1433.0 L1168.7,1432.7 L1169.6,1432.3 L1170.4,1432.3 L1171.3,1432.7 L1172.1,1433.2 L1173.0,1433.4 L1173.8,1433.6 L1174.7,1433.7 L1175.6,1434.1 L1176.4,1433.9 L1177.3,1433.1 L1178.1,1433.3 L1179.0,1433.1 L1179.8,1432.9 L1180.7,1431.9 L1181.5,1432.6 L1182.4,1432.8 L1183.2,1433.3 L1184.1,1433.1 L1184.9,1433.9 L1185.8,1433.7 L1186.6,1433.8 L1187.5,1433.7 L1188.3,1434.5 L1189.2,1434.5 L1190.0,1434.6 L1190.9,1434.2 L1191.7,1434.5 L1192.6,1434.7 L1193.4,1434.7 L1194.3,1434.6 L1195.1,1434.0 L1196.0,1434.2 L1196.8,1433.8 L1197.7,1434.1 L1198.5,1434.4 L1199.4,1435.2 L1200.2,1435.4 L1201.1,1435.1 L1201.9,1434.5 L1202.8,1434.7 L1203.6,1434.7 L1204.5,1435.1 L1205.3,1435.3 L1206.2,1435.5 L1207.0,1435.2 L1207.9,1435.0 L1208.8,1434.7 L1209.6,1434.4 L1210.5,1434.5 L1211.3,1435.2 L1212.2,1436.0 L1213.0,1435.6 L1213.9,1434.3 L1214.7,1433.8 L1215.6,1434.1 L1216.4,1434.9 L1217.3,1435.4 L1218.1,1435.1 L1219.0,1435.3 L1219.8,1435.1 L1220.7,1435.4 L1221.5,1434.9 L1222.4,1434.8 L1223.2,1434.9 L1224.1,1435.2 L1224.9,1434.9 L1225.8,1434.7 L1226.6,1434.6 L1227.5,1435.0 L1228.3,1435.4 L1229.2,1435.8 L1230.0,1435.8 L1230.9,1435.5 L1231.7,1435.5 L1232.6,1435.0 L1233.4,1435.1 L1234.3,1435.3 L1235.1,1435.6 L1236.0,1435.8 L1236.8,1435.2 L1237.7,1435.4 L1238.5,1435.2 L1239.4,1435.7 L1240.3,1435.7 L1241.1,1436.3 L1242.0,1435.5 L1242.8,1435.1 L1243.7,1434.4 L1244.5,1435.2 L1245.4,1435.4 L1246.2,1435.4 L1247.1,1435.0 L1247.9,1434.9 L1248.8,1434.8 L1249.6,1435.6 L1250.5,1435.8 L1251.3,1436.7 L1252.2,1436.6 L1253.0,1436.8 L1253.9,1436.3 L1254.7,1436.3 L1255.6,1436.1 L1256.4,1435.5 L1257.3,1435.6 L1258.1,1435.7 L1259.0,1436.3 L1259.8,1436.2 L1260.7,1436.0 L1261.5,1436.0 L1262.4,1436.0 L1263.2,1436.7 L1264.1,1436.5 L1264.9,1436.5 L1265.8,1436.3 L1266.6,1436.3 L1267.5,1436.6 L1268.3,1436.8 L1269.2,1437.2 L1270.0,1436.9 L1270.9,1437.0 L1271.8,1436.4 L1272.6,1436.2 L1273.5,1436.1 L1274.3,1436.3 L1275.2,1436.4 L1276.0,1436.2 L1276.9,1435.9 L1277.7,1436.1 L1278.6,1436.2 L1279.4,1436.5 L1280.3,1436.2 L1281.1,1436.5 L1282.0,1436.7 L1282.8,1436.8 L1283.7,1436.2 L1284.5,1435.7 L1285.4,1435.6 L1286.2,1435.3 L1287.1,1435.5 L1287.9,1436.0 L1288.8,1436.7 L1289.6,1436.9 L1290.5,1437.0 L1291.3,1437.0 L1292.2,1436.8 L1293.0,1436.3 L1293.9,1436.3 L1294.7,1436.7 L1295.6,1437.2 L1296.4,1436.8 L1297.3,1436.2 L1298.1,1436.5 L1299.0,1436.7 L1299.8,1437.5 L1300.7,1437.0 L1301.5,1436.8 L1302.4,1436.9 L1303.3,1437.0 L1304.1,1437.7 L1305.0,1437.5 L1305.8,1437.2 L1306.7,1436.8 L1307.5,1436.9 L1308.4,1437.0 L1309.2,1437.1 L1310.1,1437.1 L1310.9,1437.0 L1311.8,1436.9 L1312.6,1436.7 L1313.5,1437.2 L1314.3,1437.3 L1315.2,1437.1 L1316.0,1437.0 L1316.9,1436.9 L1317.7,1437.2 L1318.6,1437.1 L1319.4,1437.2 L1320.3,1437.4 L1321.1,1437.6 L1322.0,1437.3 L1322.8,1437.2 L1323.7,1436.9 L1324.5,1437.2 L1325.4,1437.1 L1326.2,1437.4 L1327.1,1437.5 L1327.9,1437.4 L1328.8,1436.8 L1329.6,1436.8 L1330.5,1436.9 L1331.3,1437.0 L1332.2,1437.0 L1333.0,1437.1 L1333.9,1437.7 L1334.8,1437.7 L1335.6,1438.1 L1336.5,1438.0 L1337.3,1438.3 L1338.2,1437.9 L1339.0,1437.7 L1339.9,1437.4 L1340.7,1437.3 L1341.6,1437.3 L1342.4,1437.5 L1343.3,1437.8 L1344.1,1438.3 L1345.0,1438.4 L1345.8,1438.3 L1346.7,1437.7 L1347.5,1437.1 L1348.4,1436.9 L1349.2,1437.1 L1350.1,1437.9 L1350.9,1438.5 L1351.8,1438.5 L1352.6,1438.5 L1353.5,1438.2 L1354.3,1438.2 L1355.2,1438.1 L1356.0,1437.9 L1356.9,1438.2 L1357.7,1437.8 L1358.6,1437.2 L1359.4,1436.8 L1360.3,1437.3 L1361.1,1438.1 L1362.0,1437.9 L1362.8,1437.8 L1363.7,1437.4 L1364.5,1437.7 L1365.4,1437.4 L1366.3,1437.3 L1367.1,1437.3 L1368.0,1437.2 L1368.8,1437.1 L1369.7,1437.0 L1370.5,1437.3 L1371.4,1437.1 L1372.2,1437.1 L1373.1,1436.6 L1373.9,1436.9 L1374.8,1436.3 L1375.6,1436.6 L1376.5,1436.1 L1377.3,1435.4 L1378.2,1433.7 L1379.0,1432.2 L1379.9,1428.6 L1380.7,1421.5 L1381.6,1405.7 L1382.4,1383.2 L1383.3,1370.1 L1384.1,1382.9 L1385.0,1405.1 L1385.8,1417.8 L1386.7,1417.4 L1387.5,1408.6 L1388.4,1403.4 L1389.2,1410.4 L1390.1,1422.6 L1390.9,1430.9 L1391.8,1434.6 L1392.6,1435.9 L1393.5,1436.4 L1394.3,1436.9 L1395.2,1436.7 L1396.0,1437.1 L1396.9,1437.1 L1397.8,1437.6 L1398.6,1437.0 L1399.5,1436.6 L1400.3,1436.2 L1401.2,1436.2 L1402.0,1435.9 L1402.9,1435.5 L1403.7,1434.3 L1404.6,1431.8 L1405.4,1426.6 L1406.3,1416.4 L1407.1,1402.3 L1408.0,1393.6 L1408.8,1401.7 L1409.7,1416.0 L1410.5,1424.6 L1411.4,1424.6 L1412.2,1419.9 L1413.1,1416.7 L1413.9,1421.6 L1414.8,1428.7 L1415.6,1433.8 L1416.5,1435.9 L1417.3,1436.6 L1418.2,1437.1 L1419.0,1436.6 L1419.9,1436.9 L1420.7,1436.8 L1421.6,1437.6 L1422.4,1437.6 L1423.3,1437.6 L1424.1,1437.2 L1425.0,1437.1 L1425.8,1437.1 L1426.7,1437.1 L1427.5,1437.5 L1428.4,1437.4 L1429.2,1437.7 L1430.1,1437.5 L1431.0,1437.4 L1431.8,1437.1 L1432.7,1436.4 L1433.5,1435.9 L1434.4,1434.8 L1435.2,1433.3 L1436.1,1430.9 L1436.9,1427.5 L1437.8,1423.0 L1438.6,1416.9 L1439.5,1406.2 L1440.3,1381.2 L1441.2,1326.0 L1442.0,1245.9 L1442.9,1198.5 L1443.7,1242.7 L1444.6,1320.9 L1445.4,1366.9 L1446.3,1366.6 L1447.1,1336.7 L1448.0,1318.2 L1448.8,1342.7 L1449.7,1384.4 L1450.5,1412.7 L1451.4,1425.4 L1452.2,1429.8 L1453.1,1431.5 L1453.9,1430.9 L1454.8,1429.0 L1455.6,1423.2 L1456.5,1411.0 L1457.3,1392.6 L1458.2,1382.4 L1459.0,1392.8 L1459.9,1411.1 L1460.7,1421.4 L1461.6,1421.5 L1462.5,1415.2 L1463.3,1411.1 L1464.2,1416.6 L1465.0,1426.0 L1465.9,1432.6 L1466.7,1435.6 L1467.6,1436.6 L1468.4,1437.0 L1469.3,1437.1 L1470.1,1437.1 L1471.0,1437.4 L1471.8,1437.9 L1472.7,1438.2 L1473.5,1437.4 L1474.4,1436.9 L1475.2,1436.9 L1476.1,1438.0 L1476.9,1438.4 L1477.8,1438.1 L1478.6,1437.3 L1479.5,1436.4 L1480.3,1436.2 L1481.2,1435.0 L1482.0,1431.9 L1482.9,1425.0 L1483.7,1415.5 L1484.6,1409.6 L1485.4,1414.6 L1486.3,1424.2 L1487.1,1430.5 L1488.0,1430.6 L1488.8,1427.2 L1489.7,1425.1 L1490.5,1428.3 L1491.4,1432.8 L1492.2,1435.8 L1493.1,1437.4 L1494.0,1438.3 L1494.8,1438.4 L1495.7,1438.9 L1496.5,1438.9 L1497.4,1438.9 L1498.2,1438.3 L1499.1,1437.7 L1499.9,1437.9 L1500.8,1438.0 L1501.6,1439.2 L1502.5,1439.4 L1503.3,1439.5 L1504.2,1439.2 L1505.0,1439.2 L1505.9,1439.0 L1506.7,1439.2 L1507.6,1439.3 L1508.4,1439.8 L1509.3,1439.7 L1510.1,1439.4 L1511.0,1439.0 L1511.8,1438.7 L1512.7,1438.9 L1513.5,1439.1 L1514.4,1439.1 L1515.2,1439.1 L1516.1,1439.3 L1516.9,1439.6 L1517.8,1439.8 L1518.6,1439.3 L1519.5,1438.9 L1520.3,1438.8 L1521.2,1438.8 L1522.0,1438.8 L1522.9,1439.0 L1523.7,1439.3 L1524.6,1439.6 L1525.5,1439.3 L1526.3,1439.4 L1527.2,1439.7 L1528.0,1440.0 L1528.9,1439.8 L1529.7,1440.0 L1530.6,1440.0 L1531.4,1440.0 L1532.3,1439.6 L1533.1,1439.4 L1534.0,1439.5 L1534.8,1439.5 L1535.7,1439.6 L1536.5,1439.4 L1537.4,1439.3 L1538.2,1439.6 L1539.1,1439.7 L1539.9,1439.5 L1540.8,1439.5 L1541.6,1439.9 L1542.5,1440.2 L1543.3,1439.9 L1544.2,1439.7 L1545.0,1439.5 L1545.9,1439.4 L1546.7,1439.6 L1547.6,1439.2 L1548.4,1438.9 L1549.3,1438.9 L1550.1,1439.6 L1551.0,1439.9 L1551.8,1439.9 L1552.7,1439.5 L1553.5,1439.4 L1554.4,1439.4 L1555.2,1439.7 L1556.1,1439.9 L1557.0,1439.6 L1557.8,1439.6 L1558.7,1439.7 L1559.5,1440.0 L1560.4,1439.9 L1561.2,1439.9 L1562.1,1440.1 L1562.9,1440.2 L1563.8,1440.6 L1564.6,1440.8 L1565.5,1440.7 L1566.3,1440.1 L1567.2,1440.0 L1568.0,1439.9 L1568.9,1440.5 L1569.7,1440.1 L1570.6,1440.1 L1571.4,1440.1 L1572.3,1440.4 L1573.1,1440.7 L1574.0,1440.5 L1574.8,1440.4 L1575.7,1440.5 L1576.5,1440.2 L1577.4,1440.2 L1578.2,1440.5 L1579.1,1440.6 L1579.9,1440.8 L1580.8,1440.2 L1581.6,1440.5 L1582.5,1440.2 L1583.3,1440.3 L1584.2,1439.9 L1585.0,1440.0 L1585.9,1439.8 L1586.7,1439.9 L1587.6,1440.0 L1588.5,1440.3 L1589.3,1440.2 L1590.2,1440.1 L1591.0,1440.1 L1591.9,1440.3 L1592.7,1440.3 L1593.6,1440.4 L1594.4,1440.3 L1595.3,1440.7 L1596.1,1440.9 L1597.0,1441.0 L1597.8,1441.0 L1598.7,1440.8 L1599.5,1441.0 L1600.4,1440.8 L1601.2,1440.9 L1602.1,1440.7 L1602.9,1440.5 L1603.8,1440.9 L1604.6,1440.9 L1605.5,1440.9 L1606.3,1440.3 L1607.2,1440.2 L1608.0,1440.4 L1608.9,1440.7 L1609.7,1441.0 L1610.6,1441.3 L1611.4,1441.3 L1612.3,1441.0 L1613.1,1441.0 L1614.0,1441.2 L1614.8,1441.0 L1615.7,1440.7 L1616.5,1440.4 L1617.4,1440.6 L1618.2,1440.9 L1619.1,1441.1 L1619.9,1441.3 L1620.8,1440.8 L1621.7,1440.4 L1622.5,1440.2 L1623.4,1440.3 L1624.2,1440.5 L1625.1,1440.3 L1625.9,1440.2 L1626.8,1440.3 L1627.6,1440.7 L1628.5,1441.0 L1629.3,1441.0 L1630.2,1440.9 L1631.0,1441.0 L1631.9,1441.3 L1632.7,1441.1 L1633.6,1441.2 L1634.4,1440.7 L1635.3,1441.0 L1636.1,1441.1 L1637.0,1441.4 L1637.8,1441.1 L1638.7,1440.8 L1639.5,1440.1 L1640.4,1439.8 L1641.2,1439.6 L1642.1,1438.5 L1642.9,1436.9 L1643.8,1432.2 L1644.6,1426.8 L1645.5,1422.7 L1646.3,1426.2 L1647.2,1432.3 L1648.0,1436.4 L1648.9,1437.5 L1649.7,1435.4 L1650.6,1431.9 L1651.4,1429.3 L1652.3,1431.6 L1653.2,1435.6 L1654.0,1438.7 L1654.9,1440.5 L1655.7,1441.0 L1656.6,1440.9 L1657.4,1440.5 L1658.3,1440.3 L1659.1,1440.7 L1660.0,1440.8 L1660.8,1440.8 L1661.7,1440.6 L1662.5,1440.7 L1663.4,1440.9 L1664.2,1440.7 L1665.1,1440.5 L1665.9,1440.1 L1666.8,1439.5 L1667.6,1438.0 L1668.5,1435.3 L1669.3,1430.8 L1670.2,1428.4 L1671.0,1430.5 L1671.9,1435.3 L1672.7,1438.2 L1673.6,1439.1 L1674.4,1438.2 L1675.3,1436.4 L1676.1,1435.5 L1677.0,1436.8 L1677.8,1438.5 L1678.7,1439.9 L1679.5,1440.7 L1680.4,1441.4 L1681.2,1441.4 L1682.1,1440.8 L1682.9,1440.8 L1683.8,1440.9 L1684.7,1441.5 L1685.5,1441.3 L1686.4,1441.1 L1687.2,1440.7 L1688.1,1440.8 L1688.9,1440.5 L1689.8,1440.5 L1690.6,1440.4 L1691.5,1440.7 L1692.3,1441.0 L1693.2,1441.0 L1694.0,1440.9 L1694.9,1440.8 L1695.7,1440.7 L1696.6,1441.0 L1697.4,1440.7 L1698.3,1440.6 L1699.1,1440.0 L1700.0,1439.6 L1700.8,1439.2 L1701.7,1438.6 L1702.5,1437.3 L1703.4,1435.9 L1704.2,1433.5 L1705.1,1430.4 L1705.9,1426.0 L1706.8,1418.2 L1707.6,1400.0 L1708.5,1360.3 L1709.3,1302.7 L1710.2,1268.8 L1711.0,1301.2 L1711.9,1358.9 L1712.7,1396.8 L1713.6,1405.1 L1714.4,1390.0 L1715.3,1360.1 L1716.2,1342.5 L1717.0,1362.3 L1717.9,1396.7 L1718.7,1421.4 L1719.6,1429.6 L1720.4,1430.1 L1721.3,1428.8 L1722.1,1429.4 L1723.0,1429.9 L1723.8,1430.8 L1724.7,1431.6 L1725.5,1435.0 L1726.4,1438.0 L1727.2,1440.9 L1728.1,1440.5 L1728.9,1440.4 L1729.8,1440.6 L1730.6,1440.9 L1731.5,1441.1 L1732.3,1441.2 L1733.2,1441.5 L1734.0,1441.7 L1734.9,1441.2 L1735.7,1441.0 L1736.6,1441.2 L1737.4,1441.0 L1738.3,1440.7 L1739.1,1440.3 L1740.0,1440.9 L1740.8,1441.3 L1741.7,1441.5 L1742.5,1441.4 L1743.4,1441.4 L1744.2,1441.5 L1745.1,1442.2 L1745.9,1442.2 L1746.8,1442.3 L1747.7,1441.5 L1748.5,1441.7 L1749.4,1441.4 L1750.2,1441.5 L1751.1,1441.1 L1751.9,1440.9 L1752.8,1440.8 L1753.6,1440.6 L1754.5,1440.4 L1755.3,1440.8 L1756.2,1440.9 L1757.0,1441.1 L1757.9,1440.4 L1758.7,1439.4 L1759.6,1438.4 L1760.4,1436.8 L1761.3,1435.3 L1762.1,1432.8 L1763.0,1428.7 L1763.8,1418.7 L1764.7,1396.4 L1765.5,1364.0 L1766.4,1345.1 L1767.2,1363.6 L1768.1,1396.7 L1768.9,1418.5 L1769.8,1423.9 L1770.6,1416.7 L1771.5,1402.6 L1772.3,1394.6 L1773.2,1404.4 L1774.0,1421.1 L1774.9,1432.7 L1775.7,1437.7 L1776.6,1439.1 L1777.4,1440.1 L1778.3,1440.6 L1779.2,1441.0 L1780.0,1440.9 L1780.9,1440.9 L1781.7,1441.0 L1782.6,1441.5 L1783.4,1441.5 L1784.3,1442.1 L1785.1,1441.8 L1786.0,1441.8 L1786.8,1441.4 L1787.7,1441.9 L1788.5,1442.0 L1789.4,1442.1 L1790.2,1441.2 L1791.1,1441.4 L1791.9,1441.0 L1792.8,1441.4 L1793.6,1441.6 L1794.5,1441.7 L1795.3,1441.8 L1796.2,1441.5 L1797.0,1441.3 L1797.9,1441.0 L1798.7,1440.9 L1799.6,1440.6 L1800.4,1439.9 L1801.3,1438.7 L1802.1,1436.8 L1803.0,1433.1 L1803.8,1425.2 L1804.7,1413.8 L1805.5,1407.1 L1806.4,1414.0 L1807.2,1425.7 L1808.1,1433.6 L1808.9,1436.4 L1809.8,1435.6 L1810.6,1430.4 L1811.5,1422.9 L1812.4,1418.8 L1813.2,1424.0 L1814.1,1432.1 L1814.9,1437.5 L1815.8,1440.2 L1816.6,1441.2 L1817.5,1441.8 L1818.3,1441.8 L1819.2,1442.1 L1820.0,1442.2 L1820.9,1442.1 L1821.7,1441.9 L1822.6,1442.1 L1823.4,1442.2 L1824.3,1442.5 L1825.1,1442.0 L1826.0,1442.0 L1826.8,1441.8 L1827.7,1442.1 L1828.5,1441.9 L1829.4,1441.9 L1830.2,1442.3 L1831.1,1442.7 L1831.9,1442.7 L1832.8,1442.3 L1833.6,1442.0 L1834.5,1442.2 L1835.3,1442.2 L1836.2,1442.4 L1837.0,1442.6 L1837.9,1442.9 L1838.7,1443.1 L1839.6,1442.7 L1840.4,1442.4 L1841.3,1442.2 L1842.1,1441.3 L1843.0,1440.7 L1843.9,1439.5 L1844.7,1439.4 L1845.6,1440.0 L1846.4,1440.8 L1847.3,1441.4 L1848.1,1442.6 L1849.0,1442.7 L1849.8,1442.7 L1850.7,1442.6 L1851.5,1442.3 L1852.4,1442.5 L1853.2,1442.4 L1854.1,1442.8 L1854.9,1442.9 L1855.8,1442.8 L1856.6,1442.3 L1857.5,1442.2 L1858.3,1442.3 L1859.2,1442.7 L1860.0,1442.7 L1860.9,1442.9 L1861.7,1442.9 L1862.6,1443.1 L1863.4,1443.4 L1864.3,1443.4 L1865.1,1443.0 L1866.0,1442.4 L1866.8,1442.4 L1867.7,1442.2 L1868.5,1442.7 L1869.4,1442.8 L1870.2,1443.0 L1871.1,1442.8 L1871.9,1442.5 L1872.8,1442.4 L1873.6,1442.4 L1874.5,1442.3 L1875.4,1442.6 L1876.2,1442.4 L1877.1,1442.9 L1877.9,1442.9 L1878.8,1443.2 L1879.6,1443.1 L1880.5,1442.9 L1881.3,1442.3 L1882.2,1441.8 L1883.0,1441.9 L1883.9,1441.6 L1884.7,1441.8 L1885.6,1441.4 L1886.4,1441.8 L1887.3,1442.0 L1888.1,1442.3 L1889.0,1442.3 L1889.8,1442.1 L1890.7,1442.3 L1891.5,1442.1 L1892.4,1442.1 L1893.2,1442.0 L1894.1,1442.0 L1894.9,1441.7 L1895.8,1441.8 L1896.6,1441.9 L1897.5,1441.8 L1898.3,1440.9 L1899.2,1440.1 L1900.0,1438.8 L1900.9,1437.0 L1901.7,1433.0 L1902.6,1424.6 L1903.4,1412.2 L1904.3,1404.8 L1905.1,1412.1 L1906.0,1425.0 L1906.9,1433.6 L1907.7,1437.2 L1908.6,1436.4 L1909.4,1433.0 L1910.3,1426.4 L1911.1,1423.4 L1912.0,1427.2 L1912.8,1434.3 L1913.7,1438.8 L1914.5,1440.8 L1915.4,1441.6 L1916.2,1441.9 L1917.1,1442.2 L1917.9,1442.0 L1918.8,1441.9 L1919.6,1442.0 L1920.5,1442.4 L1921.3,1442.8 L1922.2,1442.8 L1923.0,1442.6 L1923.9,1442.4 L1924.7,1442.2 L1925.6,1442.4 L1926.4,1442.2 L1927.3,1441.9 L1928.1,1441.6 L1929.0,1441.1 L1929.8,1441.2 L1930.7,1440.7 L1931.5,1440.0 L1932.4,1439.0 L1933.2,1437.7 L1934.1,1435.4 L1934.9,1431.4 L1935.8,1422.5 L1936.6,1403.8 L1937.5,1377.1 L1938.4,1361.4 L1939.2,1377.3 L1940.1,1404.9 L1940.9,1423.5 L1941.8,1430.5 L1942.6,1429.7 L1943.5,1422.4 L1944.3,1410.3 L1945.2,1403.3 L1946.0,1411.3 L1946.9,1425.0 L1947.7,1434.5 L1948.6,1438.6 L1949.4,1440.6 L1950.3,1440.9 L1951.1,1441.5 L1952.0,1441.6 L1952.8,1441.7 L1953.7,1441.6 L1954.5,1441.7 L1955.4,1442.0 L1956.2,1442.0 L1957.1,1441.8 L1957.9,1442.3 L1958.8,1442.5 L1959.6,1442.4 L1960.5,1441.9 L1961.3,1441.5 L1962.2,1441.7 L1963.0,1441.6 L1963.9,1441.7 L1964.7,1441.8 L1965.6,1441.9 L1966.4,1442.0 L1967.3,1441.8 L1968.1,1442.1 L1969.0,1441.9 L1969.9,1441.8 L1970.7,1441.4 L1971.6,1441.4 L1972.4,1440.7 L1973.3,1440.2 L1974.1,1439.2 L1975.0,1438.3 L1975.8,1436.5 L1976.7,1434.1 L1977.5,1427.2 L1978.4,1412.7 L1979.2,1390.4 L1980.1,1377.6 L1980.9,1390.0 L1981.8,1412.3 L1982.6,1427.6 L1983.5,1433.3 L1984.3,1432.3 L1985.2,1425.3 L1986.0,1414.2 L1986.9,1408.2 L1987.7,1415.3 L1988.6,1427.7 L1989.4,1435.9 L1990.3,1437.6 L1991.1,1432.4 L1992.0,1430.2 L1992.8,1430.3 L1993.7,1430.6 L1994.5,1430.4 L1995.4,1431.5 L1996.2,1433.9 L1997.1,1436.5 L1997.9,1436.6 L1998.8,1436.5 L1999.6,1436.4 L2000.5,1436.8 L2001.4,1437.5 L2002.2,1438.9 L2003.1,1440.0 L2003.9,1441.5 L2004.8,1441.8 L2005.6,1442.4 L2006.5,1443.0 L2007.3,1443.2 L2008.2,1442.9 L2009.0,1442.6 L2009.9,1442.2 L2010.7,1442.3 L2011.6,1442.0 L2012.4,1442.3 L2013.3,1442.6 L2014.1,1443.2 L2015.0,1443.3 L2015.8,1443.1 L2016.7,1442.4 L2017.5,1442.3 L2018.4,1442.5 L2019.2,1443.0 L2020.1,1443.3 L2020.9,1443.1 L2021.8,1443.2 L2022.6,1443.0 L2023.5,1442.9 L2024.3,1443.1 L2025.2,1443.0 L2026.0,1443.2 L2026.9,1442.6 L2027.7,1443.0 L2028.6,1442.9 L2029.4,1442.9 L2030.3,1442.6 L2031.1,1442.8 L2032.0,1442.7 L2032.8,1442.5 L2033.7,1442.3 L2034.6,1442.5 L2035.4,1442.8 L2036.3,1442.8 L2037.1,1442.8 L2038.0,1442.7 L2038.8,1442.9 L2039.7,1443.2 L2040.5,1443.2 L2041.4,1442.8 L2042.2,1442.6 L2043.1,1442.6 L2043.9,1442.9 L2044.8,1443.0 L2045.6,1443.0 L2046.5,1443.2 L2047.3,1443.1 L2048.2,1443.4 L2049.0,1443.0 L2049.9,1442.6 L2050.7,1442.2 L2051.6,1442.9 L2052.4,1443.3 L2053.3,1443.5 L2054.1,1443.0 L2055.0,1443.0 L2055.8,1443.1 L2056.7,1443.1 L2057.5,1443.5 L2058.4,1443.7 L2059.2,1443.7 L2060.1,1443.5 L2060.9,1443.4 L2061.8,1443.2 L2062.6,1443.3 L2063.5,1443.0 L2064.3,1443.4 L2065.2,1443.2 L2066.1,1443.5 L2066.9,1443.6 L2067.8,1443.7 L2068.6,1443.5 L2069.5,1443.2 L2070.3,1443.2 L2071.2,1443.2 L2072.0,1443.2 L2072.9,1443.1 L2073.7,1443.1 L2074.6,1443.3 L2075.4,1443.2 L2076.3,1443.3 L2077.1,1443.1 L2078.0,1442.9 L2078.8,1443.0 L2079.7,1443.3 L2080.5,1443.5 L2081.4,1443.6 L2082.2,1443.4 L2083.1,1443.3 L2083.9,1443.4 L2084.8,1443.0 L2085.6,1443.2 L2086.5,1443.1 L2087.3,1443.3 L2088.2,1443.6 L2089.0,1443.4 L2089.9,1443.8 L2090.7,1443.5 L2091.6,1443.7 L2092.4,1443.5 L2093.3,1444.0 L2094.1,1443.9 L2095.0,1444.1 L2095.8,1443.8 L2096.7,1443.8 L2097.6,1443.6 L2098.4,1443.5 L2099.3,1443.7 L2100.1,1443.9 L2101.0,1443.9 L2101.8,1443.7 L2102.7,1443.6 L2103.5,1443.3 L2104.4,1443.3 L2105.2,1442.8 L2106.1,1442.9 L2106.9,1442.8 L2107.8,1442.8 L2108.6,1442.7 L2109.5,1442.7 L2110.3,1442.9 L2111.2,1443.0 L2112.0,1442.5 L2112.9,1441.9 L2113.7,1441.0 L2114.6,1439.7 L2115.4,1437.7 L2116.3,1432.2 L2117.1,1420.9 L2118.0,1404.7 L2118.8,1395.8 L2119.7,1405.2 L2120.5,1421.7 L2121.4,1433.2 L2122.2,1438.0 L2123.1,1438.8 L2123.9,1437.3 L2124.8,1432.6 L2125.6,1425.7 L2126.5,1421.1 L2127.3,1425.2 L2128.2,1433.0 L2129.1,1439.0 L2129.9,1441.5 L2130.8,1442.3 L2131.6,1442.4 L2132.5,1443.0 L2133.3,1443.2 L2134.2,1443.2 L2135.0,1443.0 L2135.9,1443.3 L2136.7,1443.5 L2137.6,1443.7 L2138.4,1443.1 L2139.3,1443.2 L2140.1,1443.2 L2141.0,1443.6 L2141.8,1443.6 L2142.7,1443.8 L2143.5,1443.6 L2144.4,1443.3 L2145.2,1442.9 L2146.1,1442.5 L2146.9,1441.8 L2147.8,1440.0 L2148.6,1436.8 L2149.5,1432.5 L2150.3,1430.6 L2151.2,1433.2 L2152.0,1437.9 L2152.9,1440.7 L2153.7,1442.5 L2154.6,1442.5 L2155.4,1442.5 L2156.3,1440.9 L2157.1,1438.9 L2158.0,1437.3 L2158.8,1438.1 L2159.7,1440.5 L2160.6,1441.9 L2161.4,1443.0 L2162.3,1443.1 L2163.1,1442.8 L2164.0,1442.3 L2164.8,1442.3 L2165.7,1442.5 L2166.5,1443.2 L2167.4,1443.1 L2168.2,1443.4 L2169.1,1443.3 L2169.9,1443.7 L2170.8,1443.7 L2171.6,1443.7 L2172.5,1443.3 L2173.3,1443.3 L2174.2,1443.4 L2175.0,1443.6 L2175.9,1443.6 L2176.7,1443.3 L2177.6,1443.3 L2178.4,1443.3 L2179.3,1443.4 L2180.1,1443.6 L2181.0,1443.7 L2181.8,1443.6 L2182.7,1443.2 L2183.5,1443.1 L2184.4,1443.1 L2185.2,1443.2 L2186.1,1443.0 L2186.9,1443.3 L2187.8,1443.4 L2188.6,1443.6 L2189.5,1443.6 L2190.3,1443.2 L2191.2,1443.1 L2192.1,1443.0 L2192.9,1443.5 L2193.8,1443.6 L2194.6,1443.7 L2195.5,1443.8 L2196.3,1443.4 L2197.2,1443.1 L2198.0,1443.1 L2198.9,1443.7 L2199.7,1443.7 L2200.6,1443.5"/>
<text transform="translate(323.8,547.2) scale(1,1.045)" y="29.3" font-size="58" style="fill:#ff0000" class="st">*</text>
<text transform="translate(698.2,543.0) scale(1,1.045)" y="29.3" font-size="58" style="fill:#ff0000" class="st">*</text>
<text transform="translate(852.3,44.7) scale(1,1.045)" y="29.3" font-size="58" style="fill:#ff0000" class="st">*</text>
<text transform="translate(992.2,454.9) scale(1,1.045)" y="29.3" font-size="58" style="fill:#ff0000" class="st">*</text>
<text transform="translate(1243.4,610.2) scale(1,1.045)" y="29.3" font-size="58" style="fill:#ff0000" class="st">*</text>
<text transform="translate(1470.4,577.5) scale(1,1.045)" y="29.3" font-size="58" style="fill:#ff0000" class="st">*</text>
<text transform="translate(1675.9,562.0) scale(1,1.045)" y="29.3" font-size="58" style="fill:#ff0000" class="st">*</text>
<text transform="translate(1775.9,532.1) scale(1,1.045)" y="29.3" font-size="58" style="fill:#ff0000" class="st">*</text>
<text transform="translate(1873.0,554.3) scale(1,1.045)" y="29.3" font-size="58" style="fill:#ff0000" class="st">*</text>
<text transform="translate(2058.9,591.6) scale(1,1.045)" y="29.3" font-size="58" style="fill:#ff0000" class="st">*</text>
<text transform="translate(1058.1,613.3) scale(1,1.045)" y="29.3" font-size="58" style="fill:#00ffff" class="st">*</text>
<text transform="translate(1330.0,619.3) scale(1,1.045)" y="29.3" font-size="58" style="fill:#00ffff" class="st">*</text>
<text transform="translate(809.5,602.9) scale(1,1.04)" y="17.2" font-size="34" style="fill:#808080" class="st">*</text>
<text transform="translate(819.0,613.3) scale(1,1.04)" y="17.2" font-size="34" style="fill:#808080" class="st">*</text>
<text transform="translate(384.2,1258.0) scale(1,1.045)" y="29.3" font-size="58" style="fill:#00b414" class="st">*</text>
<text transform="translate(632.2,867.3) scale(1,1.045)" y="29.3" font-size="58" style="fill:#00b414" class="st">*</text>
<text transform="translate(762.0,870.9) scale(1,1.045)" y="29.3" font-size="58" style="fill:#00b414" class="st">*</text>
<text transform="translate(875.5,957.4) scale(1,1.045)" y="29.3" font-size="58" style="fill:#00b414" class="st">*</text>
<text transform="translate(942.3,1335.5) scale(1,1.045)" y="29.3" font-size="58" style="fill:#00b414" class="st">*</text>
<text transform="translate(1016.0,1177.3) scale(1,1.045)" y="29.3" font-size="58" style="fill:#00b414" class="st">*</text>
<text transform="translate(1062.6,1395.5) scale(1,1.045)" y="29.3" font-size="58" style="fill:#00b414" class="st">*</text>
<text transform="translate(1124.5,1351.1) scale(1,1.045)" y="29.3" font-size="58" style="fill:#00b414" class="st">*</text>
<text transform="translate(1384.3,1357.1) scale(1,1.045)" y="29.3" font-size="58" style="fill:#00b414" class="st">*</text>
<text transform="translate(1410.1,1376.0) scale(1,1.045)" y="29.3" font-size="58" style="fill:#00b414" class="st">*</text>
<text transform="translate(1445.0,1181.1) scale(1,1.045)" y="29.3" font-size="58" style="fill:#00b414" class="st">*</text>
<text transform="translate(1460.0,1368.9) scale(1,1.045)" y="29.3" font-size="58" style="fill:#00b414" class="st">*</text>
<text transform="translate(1486.0,1395.1) scale(1,1.045)" y="29.3" font-size="58" style="fill:#00b414" class="st">*</text>
<text transform="translate(1646.8,1404.2) scale(1,1.045)" y="29.3" font-size="58" style="fill:#00b414" class="st">*</text>
<text transform="translate(1672.7,1415.1) scale(1,1.045)" y="29.3" font-size="58" style="fill:#00b414" class="st">*</text>
<text transform="translate(1710.5,1251.0) scale(1,1.045)" y="29.3" font-size="58" style="fill:#00b414" class="st">*</text>
<text transform="translate(1718.8,1330.5) scale(1,1.045)" y="29.3" font-size="58" style="fill:#00b414" class="st">*</text>
<text transform="translate(1768.1,1333.0) scale(1,1.045)" y="29.3" font-size="58" style="fill:#00b414" class="st">*</text>
<text transform="translate(1776.3,1382.9) scale(1,1.045)" y="29.3" font-size="58" style="fill:#00b414" class="st">*</text>
<text transform="translate(1807.5,1393.0) scale(1,1.045)" y="29.3" font-size="58" style="fill:#00b414" class="st">*</text>
<text transform="translate(1908.1,1391.5) scale(1,1.045)" y="29.3" font-size="58" style="fill:#00b414" class="st">*</text>
<text transform="translate(1938.7,1347.3) scale(1,1.045)" y="29.3" font-size="58" style="fill:#00b414" class="st">*</text>
<text transform="translate(1948.6,1391.7) scale(1,1.045)" y="29.3" font-size="58" style="fill:#00b414" class="st">*</text>
<text transform="translate(1982.2,1359.9) scale(1,1.045)" y="29.3" font-size="58" style="fill:#00b414" class="st">*</text>
<text transform="translate(1990.7,1392.3) scale(1,1.045)" y="29.3" font-size="58" style="fill:#00b414" class="st">*</text>
<text transform="translate(2122.3,1381.4) scale(1,1.045)" y="29.3" font-size="58" style="fill:#00b414" class="st">*</text>
<text transform="translate(2153.0,1415.0) scale(1,1.045)" y="29.3" font-size="58" style="fill:#00b414" class="st">*</text>
<text transform="translate(450.2,1385.5) scale(1,1.08)" y="18.2" font-size="36" style="fill:#ff1493" class="st">*</text>
<text transform="translate(746.0,1391.3) scale(1,1.08)" y="18.2" font-size="36" style="fill:#ff1493" class="st">*</text>
<text transform="translate(1414.5,1403.0) scale(1,1.08)" y="18.2" font-size="36" style="fill:#ff1493" class="st">*</text>
<text transform="translate(807.9,1394.7) scale(1,1.04)" y="17.2" font-size="34" style="fill:#808080" class="st">*</text>
<text transform="translate(819.5,1402.6) scale(1,1.04)" y="17.2" font-size="34" style="fill:#808080" class="st">*</text>
<text transform="translate(853.2,1398.2) scale(1,1.05)" y="20.2" font-size="40" style="fill:#ff0000" class="st">*</text>
<text transform="translate(1780.9,1426.3) scale(1,1.05)" y="17.7" font-size="35" style="fill:#ff0000" class="st">*</text>
<text transform="translate(1874.6,1428.8) scale(1,1.05)" y="17.7" font-size="35" style="fill:#ff0000" class="st">*</text>
</svg>
</body></html>
